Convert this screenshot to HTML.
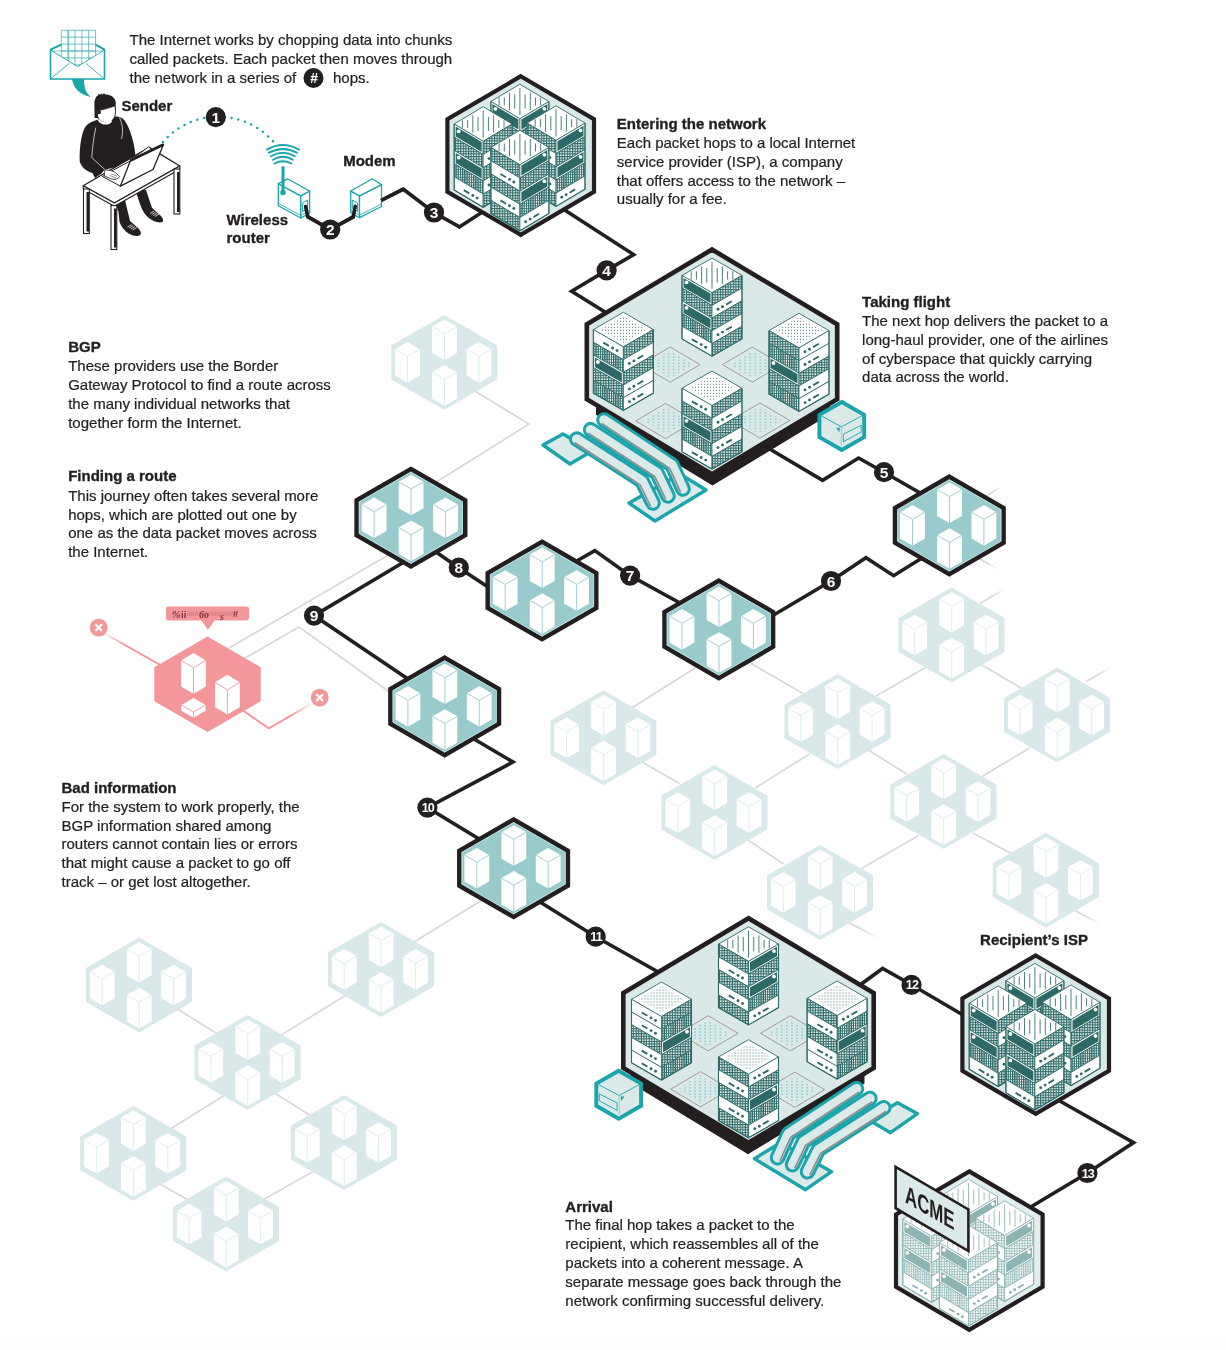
<!DOCTYPE html><html><head><meta charset="utf-8"><style>html,body{margin:0;padding:0;background:#fff;}body{width:1226px;height:1350px;position:relative;overflow:hidden;font-family:"Liberation Sans",sans-serif;}</style></head><body><svg width="1226" height="1350" viewBox="0 0 1226 1350" style="position:absolute;left:0;top:0;will-change:transform"><defs><pattern id="xh" width="2.6" height="2.6" patternUnits="userSpaceOnUse"><rect width="2.6" height="2.6" fill="#fff"/><rect width="2.6" height="1.1" fill="#2d6a67"/><rect width="1.1" height="2.6" fill="#2d6a67"/></pattern><pattern id="vl" width="3.2" height="3.2" patternUnits="userSpaceOnUse"><rect width="3.2" height="3.2" fill="#fff"/><rect width="1.2" height="3.2" fill="#2d6a67"/></pattern><pattern id="dots" width="5.1" height="3.1" patternUnits="userSpaceOnUse"><circle cx="2.5" cy="1.5" r="0.62" fill="#2fb0b4"/></pattern><pattern id="dots2" width="3" height="3" patternUnits="userSpaceOnUse"><circle cx="1.5" cy="1.5" r="0.6" fill="#2d6a67"/></pattern><pattern id="vhf" width="2.2" height="2.6" patternUnits="userSpaceOnUse"><rect width="2.2" height="2.6" fill="#fff"/><rect width="1.1" height="2.6" fill="#9cc0be"/><rect width="2.2" height="0.6" fill="#9cc0be"/></pattern><pattern id="vh" width="2.2" height="2.6" patternUnits="userSpaceOnUse"><rect width="2.2" height="2.6" fill="#fff"/><rect width="1.3" height="2.6" fill="#2d6a67"/><rect width="2.2" height="0.7" fill="#2d6a67"/></pattern><pattern id="xhf" width="2.6" height="2.6" patternUnits="userSpaceOnUse"><rect width="2.6" height="2.6" fill="#fff"/><rect width="2.6" height="0.9" fill="#9cc0be"/><rect width="0.9" height="2.6" fill="#9cc0be"/></pattern><linearGradient id="fadeR" x1="0" x2="1" y1="0" y2="0"><stop offset="0" stop-color="#d8d8d8"/><stop offset="1" stop-color="#d8d8d8" stop-opacity="0"/></linearGradient></defs><rect x="0" y="1335" width="1226" height="15" fill="#fdfdfd"/><polyline points="470.0,388.0 529.0,424.0 430.0,486.0" fill="none" stroke="#d8d8d8" stroke-width="1.7"/><polyline points="229.0,648.0 395.0,551.0" fill="none" stroke="#d8d8d8" stroke-width="1.7"/><polyline points="240.0,661.0 299.0,627.0 395.0,696.0" fill="none" stroke="#d8d8d8" stroke-width="1.7"/><polyline points="696.0,667.5 632.0,707.7" fill="none" stroke="#d8d8d8" stroke-width="1.7"/><polyline points="750.0,662.8 803.0,693.5" fill="none" stroke="#d8d8d8" stroke-width="1.7"/><polyline points="876.0,696.0 925.5,667.5" fill="none" stroke="#d8d8d8" stroke-width="1.7"/><polyline points="982.0,665.0 1022.5,689.0" fill="none" stroke="#d8d8d8" stroke-width="1.7"/><polyline points="642.0,762.0 679.5,783.4" fill="none" stroke="#d8d8d8" stroke-width="1.7"/><polyline points="809.6,754.0 755.0,788.0" fill="none" stroke="#d8d8d8" stroke-width="1.7"/><polyline points="868.8,750.3 906.6,774.0" fill="none" stroke="#d8d8d8" stroke-width="1.7"/><polyline points="1029.6,748.0 982.3,776.3" fill="none" stroke="#d8d8d8" stroke-width="1.7"/><polyline points="748.0,840.0 783.6,864.0" fill="none" stroke="#d8d8d8" stroke-width="1.7"/><polyline points="918.4,835.4 861.7,868.5" fill="none" stroke="#d8d8d8" stroke-width="1.7"/><polyline points="972.8,833.0 1013.0,854.4" fill="none" stroke="#d8d8d8" stroke-width="1.7"/><polyline points="177.0,1008.7 217.2,1033.8" fill="none" stroke="#d8d8d8" stroke-width="1.7"/><polyline points="280.7,1035.4 351.0,992.0" fill="none" stroke="#d8d8d8" stroke-width="1.7"/><polyline points="223.8,1095.7 170.3,1129.0" fill="none" stroke="#d8d8d8" stroke-width="1.7"/><polyline points="270.7,1090.6 310.8,1115.7" fill="none" stroke="#d8d8d8" stroke-width="1.7"/><polyline points="160.3,1184.3 187.0,1199.3" fill="none" stroke="#d8d8d8" stroke-width="1.7"/><polyline points="314.0,1171.0 264.0,1199.3" fill="none" stroke="#d8d8d8" stroke-width="1.7"/><polyline points="414.5,941.8 482.0,900.0" fill="none" stroke="#d8d8d8" stroke-width="1.7"/><defs><linearGradient id="stub0" gradientUnits="userSpaceOnUse" x1="980" y1="603.6" x2="1006" y2="588"><stop offset="0" stop-color="#d8d8d8"/><stop offset="0.45" stop-color="#d8d8d8"/><stop offset="1" stop-color="#d8d8d8" stop-opacity="0"/></linearGradient><linearGradient id="stub1" gradientUnits="userSpaceOnUse" x1="1086" y1="681.7" x2="1112" y2="666.5"><stop offset="0" stop-color="#d8d8d8"/><stop offset="0.45" stop-color="#d8d8d8"/><stop offset="1" stop-color="#d8d8d8" stop-opacity="0"/></linearGradient><linearGradient id="stub2" gradientUnits="userSpaceOnUse" x1="985" y1="497" x2="1002" y2="486"><stop offset="0" stop-color="#d8d8d8"/><stop offset="0.45" stop-color="#d8d8d8"/><stop offset="1" stop-color="#d8d8d8" stop-opacity="0"/></linearGradient><linearGradient id="stub3" gradientUnits="userSpaceOnUse" x1="978" y1="558" x2="999" y2="569.5"><stop offset="0" stop-color="#d8d8d8"/><stop offset="0.45" stop-color="#d8d8d8"/><stop offset="1" stop-color="#d8d8d8" stop-opacity="0"/></linearGradient><linearGradient id="stub4" gradientUnits="userSpaceOnUse" x1="1074" y1="910" x2="1100" y2="924"><stop offset="0" stop-color="#d8d8d8"/><stop offset="0.45" stop-color="#d8d8d8"/><stop offset="1" stop-color="#d8d8d8" stop-opacity="0"/></linearGradient><linearGradient id="stub5" gradientUnits="userSpaceOnUse" x1="849.7" y1="923" x2="878" y2="938"><stop offset="0" stop-color="#d8d8d8"/><stop offset="0.45" stop-color="#d8d8d8"/><stop offset="1" stop-color="#d8d8d8" stop-opacity="0"/></linearGradient></defs><line x1="980" y1="603.6" x2="1006" y2="588" stroke="url(#stub0)" stroke-width="1.8"/><line x1="1086" y1="681.7" x2="1112" y2="666.5" stroke="url(#stub1)" stroke-width="1.8"/><line x1="985" y1="497" x2="1002" y2="486" stroke="url(#stub2)" stroke-width="1.8"/><line x1="978" y1="558" x2="999" y2="569.5" stroke="url(#stub3)" stroke-width="1.8"/><line x1="1074" y1="910" x2="1100" y2="924" stroke="url(#stub4)" stroke-width="1.8"/><line x1="849.7" y1="923" x2="878" y2="938" stroke="url(#stub5)" stroke-width="1.8"/><polygon points="444.3,314.9 497.3,345.5 497.3,379.3 444.3,409.9 391.3,379.3 391.3,345.5" fill="#d9e8e8"/><polygon points="444.5,319.4 456.9,326.5 456.9,352.9 444.5,360.0 432.1,352.9 432.1,326.5" fill="#fff"/><polyline points="432.1,326.5 444.5,333.6 456.9,326.5" fill="none" stroke="#dcebeb" stroke-width="0.9"/><line x1="444.5" y1="333.6" x2="444.5" y2="360.0" stroke="#dcebeb" stroke-width="0.9"/><polygon points="407.5,342.1 419.9,349.2 419.9,375.6 407.5,382.7 395.1,375.6 395.1,349.2" fill="#fff"/><polyline points="395.1,349.2 407.5,356.3 419.9,349.2" fill="none" stroke="#dcebeb" stroke-width="0.9"/><line x1="407.5" y1="356.3" x2="407.5" y2="382.7" stroke="#dcebeb" stroke-width="0.9"/><polygon points="478.9,342.1 491.3,349.2 491.3,375.6 478.9,382.7 466.5,375.6 466.5,349.2" fill="#fff"/><polyline points="466.5,349.2 478.9,356.3 491.3,349.2" fill="none" stroke="#dcebeb" stroke-width="0.9"/><line x1="478.9" y1="356.3" x2="478.9" y2="382.7" stroke="#dcebeb" stroke-width="0.9"/><polygon points="444.5,365.2 456.9,372.3 456.9,398.7 444.5,405.8 432.1,398.7 432.1,372.3" fill="#fff"/><polyline points="432.1,372.3 444.5,379.4 456.9,372.3" fill="none" stroke="#dcebeb" stroke-width="0.9"/><line x1="444.5" y1="379.4" x2="444.5" y2="405.8" stroke="#dcebeb" stroke-width="0.9"/><polygon points="951.5,587.5 1004.5,618.1 1004.5,651.9 951.5,682.5 898.5,651.9 898.5,618.1" fill="#d9e8e8"/><polygon points="951.7,592.0 964.1,599.1 964.1,625.5 951.7,632.6 939.3,625.5 939.3,599.1" fill="#fff"/><polyline points="939.3,599.1 951.7,606.2 964.1,599.1" fill="none" stroke="#dcebeb" stroke-width="0.9"/><line x1="951.7" y1="606.2" x2="951.7" y2="632.6" stroke="#dcebeb" stroke-width="0.9"/><polygon points="914.7,614.7 927.1,621.8 927.1,648.2 914.7,655.3 902.3,648.2 902.3,621.8" fill="#fff"/><polyline points="902.3,621.8 914.7,628.9 927.1,621.8" fill="none" stroke="#dcebeb" stroke-width="0.9"/><line x1="914.7" y1="628.9" x2="914.7" y2="655.3" stroke="#dcebeb" stroke-width="0.9"/><polygon points="986.1,614.7 998.5,621.8 998.5,648.2 986.1,655.3 973.7,648.2 973.7,621.8" fill="#fff"/><polyline points="973.7,621.8 986.1,628.9 998.5,621.8" fill="none" stroke="#dcebeb" stroke-width="0.9"/><line x1="986.1" y1="628.9" x2="986.1" y2="655.3" stroke="#dcebeb" stroke-width="0.9"/><polygon points="951.7,637.8 964.1,644.9 964.1,671.3 951.7,678.4 939.3,671.3 939.3,644.9" fill="#fff"/><polyline points="939.3,644.9 951.7,652.0 964.1,644.9" fill="none" stroke="#dcebeb" stroke-width="0.9"/><line x1="951.7" y1="652.0" x2="951.7" y2="678.4" stroke="#dcebeb" stroke-width="0.9"/><polygon points="603.4,690.3 656.4,720.9 656.4,754.7 603.4,785.3 550.4,754.7 550.4,720.9" fill="#d9e8e8"/><polygon points="603.6,694.8 616.0,701.9 616.0,728.3 603.6,735.4 591.2,728.3 591.2,701.9" fill="#fff"/><polyline points="591.2,701.9 603.6,709.0 616.0,701.9" fill="none" stroke="#dcebeb" stroke-width="0.9"/><line x1="603.6" y1="709.0" x2="603.6" y2="735.4" stroke="#dcebeb" stroke-width="0.9"/><polygon points="566.6,717.5 579.0,724.6 579.0,751.0 566.6,758.1 554.2,751.0 554.2,724.6" fill="#fff"/><polyline points="554.2,724.6 566.6,731.7 579.0,724.6" fill="none" stroke="#dcebeb" stroke-width="0.9"/><line x1="566.6" y1="731.7" x2="566.6" y2="758.1" stroke="#dcebeb" stroke-width="0.9"/><polygon points="638.0,717.5 650.4,724.6 650.4,751.0 638.0,758.1 625.6,751.0 625.6,724.6" fill="#fff"/><polyline points="625.6,724.6 638.0,731.7 650.4,724.6" fill="none" stroke="#dcebeb" stroke-width="0.9"/><line x1="638.0" y1="731.7" x2="638.0" y2="758.1" stroke="#dcebeb" stroke-width="0.9"/><polygon points="603.6,740.6 616.0,747.7 616.0,774.1 603.6,781.2 591.2,774.1 591.2,747.7" fill="#fff"/><polyline points="591.2,747.7 603.6,754.8 616.0,747.7" fill="none" stroke="#dcebeb" stroke-width="0.9"/><line x1="603.6" y1="754.8" x2="603.6" y2="781.2" stroke="#dcebeb" stroke-width="0.9"/><polygon points="837.5,674.0 890.5,704.6 890.5,738.4 837.5,769.0 784.5,738.4 784.5,704.6" fill="#d9e8e8"/><polygon points="837.7,678.5 850.1,685.6 850.1,712.0 837.7,719.1 825.3,712.0 825.3,685.6" fill="#fff"/><polyline points="825.3,685.6 837.7,692.7 850.1,685.6" fill="none" stroke="#dcebeb" stroke-width="0.9"/><line x1="837.7" y1="692.7" x2="837.7" y2="719.1" stroke="#dcebeb" stroke-width="0.9"/><polygon points="800.7,701.2 813.1,708.3 813.1,734.7 800.7,741.8 788.3,734.7 788.3,708.3" fill="#fff"/><polyline points="788.3,708.3 800.7,715.4 813.1,708.3" fill="none" stroke="#dcebeb" stroke-width="0.9"/><line x1="800.7" y1="715.4" x2="800.7" y2="741.8" stroke="#dcebeb" stroke-width="0.9"/><polygon points="872.1,701.2 884.5,708.3 884.5,734.7 872.1,741.8 859.7,734.7 859.7,708.3" fill="#fff"/><polyline points="859.7,708.3 872.1,715.4 884.5,708.3" fill="none" stroke="#dcebeb" stroke-width="0.9"/><line x1="872.1" y1="715.4" x2="872.1" y2="741.8" stroke="#dcebeb" stroke-width="0.9"/><polygon points="837.7,724.3 850.1,731.4 850.1,757.8 837.7,764.9 825.3,757.8 825.3,731.4" fill="#fff"/><polyline points="825.3,731.4 837.7,738.5 850.1,731.4" fill="none" stroke="#dcebeb" stroke-width="0.9"/><line x1="837.7" y1="738.5" x2="837.7" y2="764.9" stroke="#dcebeb" stroke-width="0.9"/><polygon points="1057.0,667.5 1110.0,698.1 1110.0,731.9 1057.0,762.5 1004.0,731.9 1004.0,698.1" fill="#d9e8e8"/><polygon points="1057.2,672.0 1069.6,679.1 1069.6,705.5 1057.2,712.6 1044.8,705.5 1044.8,679.1" fill="#fff"/><polyline points="1044.8,679.1 1057.2,686.2 1069.6,679.1" fill="none" stroke="#dcebeb" stroke-width="0.9"/><line x1="1057.2" y1="686.2" x2="1057.2" y2="712.6" stroke="#dcebeb" stroke-width="0.9"/><polygon points="1020.2,694.7 1032.6,701.8 1032.6,728.2 1020.2,735.3 1007.8,728.2 1007.8,701.8" fill="#fff"/><polyline points="1007.8,701.8 1020.2,708.9 1032.6,701.8" fill="none" stroke="#dcebeb" stroke-width="0.9"/><line x1="1020.2" y1="708.9" x2="1020.2" y2="735.3" stroke="#dcebeb" stroke-width="0.9"/><polygon points="1091.6,694.7 1104.0,701.8 1104.0,728.2 1091.6,735.3 1079.2,728.2 1079.2,701.8" fill="#fff"/><polyline points="1079.2,701.8 1091.6,708.9 1104.0,701.8" fill="none" stroke="#dcebeb" stroke-width="0.9"/><line x1="1091.6" y1="708.9" x2="1091.6" y2="735.3" stroke="#dcebeb" stroke-width="0.9"/><polygon points="1057.2,717.8 1069.6,724.9 1069.6,751.3 1057.2,758.4 1044.8,751.3 1044.8,724.9" fill="#fff"/><polyline points="1044.8,724.9 1057.2,732.0 1069.6,724.9" fill="none" stroke="#dcebeb" stroke-width="0.9"/><line x1="1057.2" y1="732.0" x2="1057.2" y2="758.4" stroke="#dcebeb" stroke-width="0.9"/><polygon points="714.5,765.0 767.5,795.6 767.5,829.4 714.5,860.0 661.5,829.4 661.5,795.6" fill="#d9e8e8"/><polygon points="714.7,769.5 727.1,776.6 727.1,803.0 714.7,810.1 702.3,803.0 702.3,776.6" fill="#fff"/><polyline points="702.3,776.6 714.7,783.7 727.1,776.6" fill="none" stroke="#dcebeb" stroke-width="0.9"/><line x1="714.7" y1="783.7" x2="714.7" y2="810.1" stroke="#dcebeb" stroke-width="0.9"/><polygon points="677.7,792.2 690.1,799.3 690.1,825.7 677.7,832.8 665.3,825.7 665.3,799.3" fill="#fff"/><polyline points="665.3,799.3 677.7,806.4 690.1,799.3" fill="none" stroke="#dcebeb" stroke-width="0.9"/><line x1="677.7" y1="806.4" x2="677.7" y2="832.8" stroke="#dcebeb" stroke-width="0.9"/><polygon points="749.1,792.2 761.5,799.3 761.5,825.7 749.1,832.8 736.7,825.7 736.7,799.3" fill="#fff"/><polyline points="736.7,799.3 749.1,806.4 761.5,799.3" fill="none" stroke="#dcebeb" stroke-width="0.9"/><line x1="749.1" y1="806.4" x2="749.1" y2="832.8" stroke="#dcebeb" stroke-width="0.9"/><polygon points="714.7,815.3 727.1,822.4 727.1,848.8 714.7,855.9 702.3,848.8 702.3,822.4" fill="#fff"/><polyline points="702.3,822.4 714.7,829.5 727.1,822.4" fill="none" stroke="#dcebeb" stroke-width="0.9"/><line x1="714.7" y1="829.5" x2="714.7" y2="855.9" stroke="#dcebeb" stroke-width="0.9"/><polygon points="943.5,754.0 996.5,784.6 996.5,818.4 943.5,849.0 890.5,818.4 890.5,784.6" fill="#d9e8e8"/><polygon points="943.7,758.5 956.1,765.6 956.1,792.0 943.7,799.1 931.3,792.0 931.3,765.6" fill="#fff"/><polyline points="931.3,765.6 943.7,772.7 956.1,765.6" fill="none" stroke="#dcebeb" stroke-width="0.9"/><line x1="943.7" y1="772.7" x2="943.7" y2="799.1" stroke="#dcebeb" stroke-width="0.9"/><polygon points="906.7,781.2 919.1,788.3 919.1,814.7 906.7,821.8 894.3,814.7 894.3,788.3" fill="#fff"/><polyline points="894.3,788.3 906.7,795.4 919.1,788.3" fill="none" stroke="#dcebeb" stroke-width="0.9"/><line x1="906.7" y1="795.4" x2="906.7" y2="821.8" stroke="#dcebeb" stroke-width="0.9"/><polygon points="978.1,781.2 990.5,788.3 990.5,814.7 978.1,821.8 965.7,814.7 965.7,788.3" fill="#fff"/><polyline points="965.7,788.3 978.1,795.4 990.5,788.3" fill="none" stroke="#dcebeb" stroke-width="0.9"/><line x1="978.1" y1="795.4" x2="978.1" y2="821.8" stroke="#dcebeb" stroke-width="0.9"/><polygon points="943.7,804.3 956.1,811.4 956.1,837.8 943.7,844.9 931.3,837.8 931.3,811.4" fill="#fff"/><polyline points="931.3,811.4 943.7,818.5 956.1,811.4" fill="none" stroke="#dcebeb" stroke-width="0.9"/><line x1="943.7" y1="818.5" x2="943.7" y2="844.9" stroke="#dcebeb" stroke-width="0.9"/><polygon points="820.0,844.9 873.0,875.5 873.0,909.3 820.0,939.9 767.0,909.3 767.0,875.5" fill="#d9e8e8"/><polygon points="820.2,849.4 832.6,856.5 832.6,882.9 820.2,890.0 807.8,882.9 807.8,856.5" fill="#fff"/><polyline points="807.8,856.5 820.2,863.6 832.6,856.5" fill="none" stroke="#dcebeb" stroke-width="0.9"/><line x1="820.2" y1="863.6" x2="820.2" y2="890.0" stroke="#dcebeb" stroke-width="0.9"/><polygon points="783.2,872.1 795.6,879.2 795.6,905.6 783.2,912.7 770.8,905.6 770.8,879.2" fill="#fff"/><polyline points="770.8,879.2 783.2,886.3 795.6,879.2" fill="none" stroke="#dcebeb" stroke-width="0.9"/><line x1="783.2" y1="886.3" x2="783.2" y2="912.7" stroke="#dcebeb" stroke-width="0.9"/><polygon points="854.6,872.1 867.0,879.2 867.0,905.6 854.6,912.7 842.2,905.6 842.2,879.2" fill="#fff"/><polyline points="842.2,879.2 854.6,886.3 867.0,879.2" fill="none" stroke="#dcebeb" stroke-width="0.9"/><line x1="854.6" y1="886.3" x2="854.6" y2="912.7" stroke="#dcebeb" stroke-width="0.9"/><polygon points="820.2,895.2 832.6,902.3 832.6,928.7 820.2,935.8 807.8,928.7 807.8,902.3" fill="#fff"/><polyline points="807.8,902.3 820.2,909.4 832.6,902.3" fill="none" stroke="#dcebeb" stroke-width="0.9"/><line x1="820.2" y1="909.4" x2="820.2" y2="935.8" stroke="#dcebeb" stroke-width="0.9"/><polygon points="1045.8,832.7 1098.8,863.3 1098.8,897.1 1045.8,927.7 992.8,897.1 992.8,863.3" fill="#d9e8e8"/><polygon points="1046.0,837.2 1058.4,844.3 1058.4,870.7 1046.0,877.8 1033.6,870.7 1033.6,844.3" fill="#fff"/><polyline points="1033.6,844.3 1046.0,851.4 1058.4,844.3" fill="none" stroke="#dcebeb" stroke-width="0.9"/><line x1="1046.0" y1="851.4" x2="1046.0" y2="877.8" stroke="#dcebeb" stroke-width="0.9"/><polygon points="1009.0,859.9 1021.4,867.0 1021.4,893.4 1009.0,900.5 996.6,893.4 996.6,867.0" fill="#fff"/><polyline points="996.6,867.0 1009.0,874.1 1021.4,867.0" fill="none" stroke="#dcebeb" stroke-width="0.9"/><line x1="1009.0" y1="874.1" x2="1009.0" y2="900.5" stroke="#dcebeb" stroke-width="0.9"/><polygon points="1080.4,859.9 1092.8,867.0 1092.8,893.4 1080.4,900.5 1068.0,893.4 1068.0,867.0" fill="#fff"/><polyline points="1068.0,867.0 1080.4,874.1 1092.8,867.0" fill="none" stroke="#dcebeb" stroke-width="0.9"/><line x1="1080.4" y1="874.1" x2="1080.4" y2="900.5" stroke="#dcebeb" stroke-width="0.9"/><polygon points="1046.0,883.0 1058.4,890.1 1058.4,916.5 1046.0,923.6 1033.6,916.5 1033.6,890.1" fill="#fff"/><polyline points="1033.6,890.1 1046.0,897.2 1058.4,890.1" fill="none" stroke="#dcebeb" stroke-width="0.9"/><line x1="1046.0" y1="897.2" x2="1046.0" y2="923.6" stroke="#dcebeb" stroke-width="0.9"/><polygon points="139.0,937.5 192.0,968.1 192.0,1001.9 139.0,1032.5 86.0,1001.9 86.0,968.1" fill="#d9e8e8"/><polygon points="139.2,942.0 151.6,949.1 151.6,975.5 139.2,982.6 126.8,975.5 126.8,949.1" fill="#fff"/><polyline points="126.8,949.1 139.2,956.2 151.6,949.1" fill="none" stroke="#dcebeb" stroke-width="0.9"/><line x1="139.2" y1="956.2" x2="139.2" y2="982.6" stroke="#dcebeb" stroke-width="0.9"/><polygon points="102.2,964.7 114.6,971.8 114.6,998.2 102.2,1005.3 89.8,998.2 89.8,971.8" fill="#fff"/><polyline points="89.8,971.8 102.2,978.9 114.6,971.8" fill="none" stroke="#dcebeb" stroke-width="0.9"/><line x1="102.2" y1="978.9" x2="102.2" y2="1005.3" stroke="#dcebeb" stroke-width="0.9"/><polygon points="173.6,964.7 186.0,971.8 186.0,998.2 173.6,1005.3 161.2,998.2 161.2,971.8" fill="#fff"/><polyline points="161.2,971.8 173.6,978.9 186.0,971.8" fill="none" stroke="#dcebeb" stroke-width="0.9"/><line x1="173.6" y1="978.9" x2="173.6" y2="1005.3" stroke="#dcebeb" stroke-width="0.9"/><polygon points="139.2,987.8 151.6,994.9 151.6,1021.3 139.2,1028.4 126.8,1021.3 126.8,994.9" fill="#fff"/><polyline points="126.8,994.9 139.2,1002.0 151.6,994.9" fill="none" stroke="#dcebeb" stroke-width="0.9"/><line x1="139.2" y1="1002.0" x2="139.2" y2="1028.4" stroke="#dcebeb" stroke-width="0.9"/><polygon points="381.0,921.9 434.0,952.5 434.0,986.3 381.0,1016.9 328.0,986.3 328.0,952.5" fill="#d9e8e8"/><polygon points="381.2,926.4 393.6,933.5 393.6,959.9 381.2,967.0 368.8,959.9 368.8,933.5" fill="#fff"/><polyline points="368.8,933.5 381.2,940.6 393.6,933.5" fill="none" stroke="#dcebeb" stroke-width="0.9"/><line x1="381.2" y1="940.6" x2="381.2" y2="967.0" stroke="#dcebeb" stroke-width="0.9"/><polygon points="344.2,949.1 356.6,956.2 356.6,982.6 344.2,989.7 331.8,982.6 331.8,956.2" fill="#fff"/><polyline points="331.8,956.2 344.2,963.3 356.6,956.2" fill="none" stroke="#dcebeb" stroke-width="0.9"/><line x1="344.2" y1="963.3" x2="344.2" y2="989.7" stroke="#dcebeb" stroke-width="0.9"/><polygon points="415.6,949.1 428.0,956.2 428.0,982.6 415.6,989.7 403.2,982.6 403.2,956.2" fill="#fff"/><polyline points="403.2,956.2 415.6,963.3 428.0,956.2" fill="none" stroke="#dcebeb" stroke-width="0.9"/><line x1="415.6" y1="963.3" x2="415.6" y2="989.7" stroke="#dcebeb" stroke-width="0.9"/><polygon points="381.2,972.2 393.6,979.3 393.6,1005.7 381.2,1012.8 368.8,1005.7 368.8,979.3" fill="#fff"/><polyline points="368.8,979.3 381.2,986.4 393.6,979.3" fill="none" stroke="#dcebeb" stroke-width="0.9"/><line x1="381.2" y1="986.4" x2="381.2" y2="1012.8" stroke="#dcebeb" stroke-width="0.9"/><polygon points="247.6,1014.9 300.6,1045.5 300.6,1079.3 247.6,1109.9 194.6,1079.3 194.6,1045.5" fill="#d9e8e8"/><polygon points="247.8,1019.4 260.2,1026.5 260.2,1052.9 247.8,1060.0 235.4,1052.9 235.4,1026.5" fill="#fff"/><polyline points="235.4,1026.5 247.8,1033.6 260.2,1026.5" fill="none" stroke="#dcebeb" stroke-width="0.9"/><line x1="247.8" y1="1033.6" x2="247.8" y2="1060.0" stroke="#dcebeb" stroke-width="0.9"/><polygon points="210.8,1042.1 223.2,1049.2 223.2,1075.6 210.8,1082.7 198.4,1075.6 198.4,1049.2" fill="#fff"/><polyline points="198.4,1049.2 210.8,1056.3 223.2,1049.2" fill="none" stroke="#dcebeb" stroke-width="0.9"/><line x1="210.8" y1="1056.3" x2="210.8" y2="1082.7" stroke="#dcebeb" stroke-width="0.9"/><polygon points="282.2,1042.1 294.6,1049.2 294.6,1075.6 282.2,1082.7 269.8,1075.6 269.8,1049.2" fill="#fff"/><polyline points="269.8,1049.2 282.2,1056.3 294.6,1049.2" fill="none" stroke="#dcebeb" stroke-width="0.9"/><line x1="282.2" y1="1056.3" x2="282.2" y2="1082.7" stroke="#dcebeb" stroke-width="0.9"/><polygon points="247.8,1065.2 260.2,1072.3 260.2,1098.7 247.8,1105.8 235.4,1098.7 235.4,1072.3" fill="#fff"/><polyline points="235.4,1072.3 247.8,1079.4 260.2,1072.3" fill="none" stroke="#dcebeb" stroke-width="0.9"/><line x1="247.8" y1="1079.4" x2="247.8" y2="1105.8" stroke="#dcebeb" stroke-width="0.9"/><polygon points="133.2,1105.8 186.2,1136.4 186.2,1170.2 133.2,1200.8 80.2,1170.2 80.2,1136.4" fill="#d9e8e8"/><polygon points="133.4,1110.3 145.8,1117.4 145.8,1143.8 133.4,1150.9 121.0,1143.8 121.0,1117.4" fill="#fff"/><polyline points="121.0,1117.4 133.4,1124.5 145.8,1117.4" fill="none" stroke="#dcebeb" stroke-width="0.9"/><line x1="133.4" y1="1124.5" x2="133.4" y2="1150.9" stroke="#dcebeb" stroke-width="0.9"/><polygon points="96.4,1133.0 108.8,1140.1 108.8,1166.5 96.4,1173.6 84.0,1166.5 84.0,1140.1" fill="#fff"/><polyline points="84.0,1140.1 96.4,1147.2 108.8,1140.1" fill="none" stroke="#dcebeb" stroke-width="0.9"/><line x1="96.4" y1="1147.2" x2="96.4" y2="1173.6" stroke="#dcebeb" stroke-width="0.9"/><polygon points="167.8,1133.0 180.2,1140.1 180.2,1166.5 167.8,1173.6 155.4,1166.5 155.4,1140.1" fill="#fff"/><polyline points="155.4,1140.1 167.8,1147.2 180.2,1140.1" fill="none" stroke="#dcebeb" stroke-width="0.9"/><line x1="167.8" y1="1147.2" x2="167.8" y2="1173.6" stroke="#dcebeb" stroke-width="0.9"/><polygon points="133.4,1156.1 145.8,1163.2 145.8,1189.6 133.4,1196.7 121.0,1189.6 121.0,1163.2" fill="#fff"/><polyline points="121.0,1163.2 133.4,1170.3 145.8,1163.2" fill="none" stroke="#dcebeb" stroke-width="0.9"/><line x1="133.4" y1="1170.3" x2="133.4" y2="1196.7" stroke="#dcebeb" stroke-width="0.9"/><polygon points="344.0,1095.0 397.0,1125.6 397.0,1159.4 344.0,1190.0 291.0,1159.4 291.0,1125.6" fill="#d9e8e8"/><polygon points="344.2,1099.5 356.6,1106.6 356.6,1133.0 344.2,1140.1 331.8,1133.0 331.8,1106.6" fill="#fff"/><polyline points="331.8,1106.6 344.2,1113.7 356.6,1106.6" fill="none" stroke="#dcebeb" stroke-width="0.9"/><line x1="344.2" y1="1113.7" x2="344.2" y2="1140.1" stroke="#dcebeb" stroke-width="0.9"/><polygon points="307.2,1122.2 319.6,1129.3 319.6,1155.7 307.2,1162.8 294.8,1155.7 294.8,1129.3" fill="#fff"/><polyline points="294.8,1129.3 307.2,1136.4 319.6,1129.3" fill="none" stroke="#dcebeb" stroke-width="0.9"/><line x1="307.2" y1="1136.4" x2="307.2" y2="1162.8" stroke="#dcebeb" stroke-width="0.9"/><polygon points="378.6,1122.2 391.0,1129.3 391.0,1155.7 378.6,1162.8 366.2,1155.7 366.2,1129.3" fill="#fff"/><polyline points="366.2,1129.3 378.6,1136.4 391.0,1129.3" fill="none" stroke="#dcebeb" stroke-width="0.9"/><line x1="378.6" y1="1136.4" x2="378.6" y2="1162.8" stroke="#dcebeb" stroke-width="0.9"/><polygon points="344.2,1145.3 356.6,1152.4 356.6,1178.8 344.2,1185.9 331.8,1178.8 331.8,1152.4" fill="#fff"/><polyline points="331.8,1152.4 344.2,1159.5 356.6,1152.4" fill="none" stroke="#dcebeb" stroke-width="0.9"/><line x1="344.2" y1="1159.5" x2="344.2" y2="1185.9" stroke="#dcebeb" stroke-width="0.9"/><polygon points="226.0,1176.5 279.0,1207.1 279.0,1240.9 226.0,1271.5 173.0,1240.9 173.0,1207.1" fill="#d9e8e8"/><polygon points="226.2,1181.0 238.6,1188.1 238.6,1214.5 226.2,1221.6 213.8,1214.5 213.8,1188.1" fill="#fff"/><polyline points="213.8,1188.1 226.2,1195.2 238.6,1188.1" fill="none" stroke="#dcebeb" stroke-width="0.9"/><line x1="226.2" y1="1195.2" x2="226.2" y2="1221.6" stroke="#dcebeb" stroke-width="0.9"/><polygon points="189.2,1203.7 201.6,1210.8 201.6,1237.2 189.2,1244.3 176.8,1237.2 176.8,1210.8" fill="#fff"/><polyline points="176.8,1210.8 189.2,1217.9 201.6,1210.8" fill="none" stroke="#dcebeb" stroke-width="0.9"/><line x1="189.2" y1="1217.9" x2="189.2" y2="1244.3" stroke="#dcebeb" stroke-width="0.9"/><polygon points="260.6,1203.7 273.0,1210.8 273.0,1237.2 260.6,1244.3 248.2,1237.2 248.2,1210.8" fill="#fff"/><polyline points="248.2,1210.8 260.6,1217.9 273.0,1210.8" fill="none" stroke="#dcebeb" stroke-width="0.9"/><line x1="260.6" y1="1217.9" x2="260.6" y2="1244.3" stroke="#dcebeb" stroke-width="0.9"/><polygon points="226.2,1226.8 238.6,1233.9 238.6,1260.3 226.2,1267.4 213.8,1260.3 213.8,1233.9" fill="#fff"/><polyline points="213.8,1233.9 226.2,1241.0 238.6,1233.9" fill="none" stroke="#dcebeb" stroke-width="0.9"/><line x1="226.2" y1="1241.0" x2="226.2" y2="1267.4" stroke="#dcebeb" stroke-width="0.9"/><polyline points="305.6,206.5 307.8,216.8 330.2,229.5 353.3,216.8 355.2,206.2" fill="none" stroke="#231f20" stroke-width="3.6" stroke-linejoin="miter"/><polyline points="381.0,200.5 403.3,189.2 434.0,212.5 459.4,226.9 484.0,211.0" fill="none" stroke="#231f20" stroke-width="3.6" stroke-linejoin="miter"/><polyline points="560.0,207.0 633.7,254.6 606.6,270.4 571.6,291.2 605.0,312.0" fill="none" stroke="#231f20" stroke-width="3.6" stroke-linejoin="miter"/><polyline points="768.0,448.0 822.6,480.3 858.6,458.0 884.0,472.2 922.0,494.0" fill="none" stroke="#231f20" stroke-width="3.6" stroke-linejoin="miter"/><polyline points="922.0,558.0 893.6,575.7 866.0,557.7 831.0,581.0 772.0,616.0" fill="none" stroke="#231f20" stroke-width="3.6" stroke-linejoin="miter"/><polyline points="680.0,603.0 630.1,575.6 594.8,550.6 575.0,562.0" fill="none" stroke="#231f20" stroke-width="3.6" stroke-linejoin="miter"/><polyline points="488.0,587.0 458.8,567.7 436.0,552.0" fill="none" stroke="#231f20" stroke-width="3.6" stroke-linejoin="miter"/><polyline points="404.0,562.0 314.0,615.6 408.0,679.0" fill="none" stroke="#231f20" stroke-width="3.6" stroke-linejoin="miter"/><polyline points="474.0,739.0 513.0,762.0 427.4,807.6 480.0,839.5" fill="none" stroke="#231f20" stroke-width="3.6" stroke-linejoin="miter"/><polyline points="540.0,902.0 595.7,936.7 660.0,973.0" fill="none" stroke="#231f20" stroke-width="3.6" stroke-linejoin="miter"/><polyline points="860.0,985.0 882.6,968.5 911.5,984.8 963.0,1015.0" fill="none" stroke="#231f20" stroke-width="3.6" stroke-linejoin="miter"/><polyline points="1058.0,1100.0 1133.6,1142.6 1087.4,1173.0 1029.0,1208.0" fill="none" stroke="#231f20" stroke-width="3.6" stroke-linejoin="miter"/><polygon points="410.9,469.0 465.2,500.3 465.2,535.1 410.9,566.4 356.6,535.1 356.6,500.3" fill="#9acbcc" stroke="#231f20" stroke-width="4.5" stroke-linejoin="miter"/><polygon points="410.9,472.1 462.5,501.9 462.5,533.5 410.9,563.3 359.3,533.5 359.3,501.9" fill="none" stroke="#b9dcdc" stroke-width="1"/><polygon points="411.1,474.7 423.5,481.8 423.5,508.2 411.1,515.3 398.7,508.2 398.7,481.8" fill="#fff"/><polyline points="398.7,481.8 411.1,488.9 423.5,481.8" fill="none" stroke="#9acbcc" stroke-width="0.9"/><line x1="411.1" y1="488.9" x2="411.1" y2="515.3" stroke="#9acbcc" stroke-width="0.9"/><polygon points="374.1,497.4 386.5,504.5 386.5,530.9 374.1,538.0 361.7,530.9 361.7,504.5" fill="#fff"/><polyline points="361.7,504.5 374.1,511.6 386.5,504.5" fill="none" stroke="#9acbcc" stroke-width="0.9"/><line x1="374.1" y1="511.6" x2="374.1" y2="538.0" stroke="#9acbcc" stroke-width="0.9"/><polygon points="445.5,497.4 457.9,504.5 457.9,530.9 445.5,538.0 433.1,530.9 433.1,504.5" fill="#fff"/><polyline points="433.1,504.5 445.5,511.6 457.9,504.5" fill="none" stroke="#9acbcc" stroke-width="0.9"/><line x1="445.5" y1="511.6" x2="445.5" y2="538.0" stroke="#9acbcc" stroke-width="0.9"/><polygon points="411.1,520.5 423.5,527.6 423.5,554.0 411.1,561.1 398.7,554.0 398.7,527.6" fill="#fff"/><polyline points="398.7,527.6 411.1,534.7 423.5,527.6" fill="none" stroke="#9acbcc" stroke-width="0.9"/><line x1="411.1" y1="534.7" x2="411.1" y2="561.1" stroke="#9acbcc" stroke-width="0.9"/><polygon points="542.0,541.8 596.3,573.1 596.3,607.9 542.0,639.2 487.7,607.9 487.7,573.1" fill="#9acbcc" stroke="#231f20" stroke-width="4.5" stroke-linejoin="miter"/><polygon points="542.0,544.9 593.6,574.7 593.6,606.3 542.0,636.1 490.4,606.3 490.4,574.7" fill="none" stroke="#b9dcdc" stroke-width="1"/><polygon points="542.2,547.5 554.6,554.6 554.6,581.0 542.2,588.1 529.8,581.0 529.8,554.6" fill="#fff"/><polyline points="529.8,554.6 542.2,561.7 554.6,554.6" fill="none" stroke="#9acbcc" stroke-width="0.9"/><line x1="542.2" y1="561.7" x2="542.2" y2="588.1" stroke="#9acbcc" stroke-width="0.9"/><polygon points="505.2,570.2 517.6,577.3 517.6,603.7 505.2,610.8 492.8,603.7 492.8,577.3" fill="#fff"/><polyline points="492.8,577.3 505.2,584.4 517.6,577.3" fill="none" stroke="#9acbcc" stroke-width="0.9"/><line x1="505.2" y1="584.4" x2="505.2" y2="610.8" stroke="#9acbcc" stroke-width="0.9"/><polygon points="576.6,570.2 589.0,577.3 589.0,603.7 576.6,610.8 564.2,603.7 564.2,577.3" fill="#fff"/><polyline points="564.2,577.3 576.6,584.4 589.0,577.3" fill="none" stroke="#9acbcc" stroke-width="0.9"/><line x1="576.6" y1="584.4" x2="576.6" y2="610.8" stroke="#9acbcc" stroke-width="0.9"/><polygon points="542.2,593.3 554.6,600.4 554.6,626.8 542.2,633.9 529.8,626.8 529.8,600.4" fill="#fff"/><polyline points="529.8,600.4 542.2,607.5 554.6,600.4" fill="none" stroke="#9acbcc" stroke-width="0.9"/><line x1="542.2" y1="607.5" x2="542.2" y2="633.9" stroke="#9acbcc" stroke-width="0.9"/><polygon points="718.8,580.7 773.1,612.0 773.1,646.8 718.8,678.1 664.5,646.8 664.5,612.0" fill="#9acbcc" stroke="#231f20" stroke-width="4.5" stroke-linejoin="miter"/><polygon points="718.8,583.8 770.4,613.6 770.4,645.2 718.8,675.0 667.2,645.2 667.2,613.6" fill="none" stroke="#b9dcdc" stroke-width="1"/><polygon points="719.0,586.4 731.4,593.5 731.4,619.9 719.0,627.0 706.6,619.9 706.6,593.5" fill="#fff"/><polyline points="706.6,593.5 719.0,600.6 731.4,593.5" fill="none" stroke="#9acbcc" stroke-width="0.9"/><line x1="719.0" y1="600.6" x2="719.0" y2="627.0" stroke="#9acbcc" stroke-width="0.9"/><polygon points="682.0,609.1 694.4,616.2 694.4,642.6 682.0,649.7 669.6,642.6 669.6,616.2" fill="#fff"/><polyline points="669.6,616.2 682.0,623.3 694.4,616.2" fill="none" stroke="#9acbcc" stroke-width="0.9"/><line x1="682.0" y1="623.3" x2="682.0" y2="649.7" stroke="#9acbcc" stroke-width="0.9"/><polygon points="753.4,609.1 765.8,616.2 765.8,642.6 753.4,649.7 741.0,642.6 741.0,616.2" fill="#fff"/><polyline points="741.0,616.2 753.4,623.3 765.8,616.2" fill="none" stroke="#9acbcc" stroke-width="0.9"/><line x1="753.4" y1="623.3" x2="753.4" y2="649.7" stroke="#9acbcc" stroke-width="0.9"/><polygon points="719.0,632.2 731.4,639.3 731.4,665.7 719.0,672.8 706.6,665.7 706.6,639.3" fill="#fff"/><polyline points="706.6,639.3 719.0,646.4 731.4,639.3" fill="none" stroke="#9acbcc" stroke-width="0.9"/><line x1="719.0" y1="646.4" x2="719.0" y2="672.8" stroke="#9acbcc" stroke-width="0.9"/><polygon points="949.3,476.7 1003.6,508.0 1003.6,542.8 949.3,574.1 895.0,542.8 895.0,508.0" fill="#9acbcc" stroke="#231f20" stroke-width="4.5" stroke-linejoin="miter"/><polygon points="949.3,479.8 1000.9,509.6 1000.9,541.2 949.3,571.0 897.7,541.2 897.7,509.6" fill="none" stroke="#b9dcdc" stroke-width="1"/><polygon points="949.5,482.4 961.9,489.5 961.9,515.9 949.5,523.0 937.1,515.9 937.1,489.5" fill="#fff"/><polyline points="937.1,489.5 949.5,496.6 961.9,489.5" fill="none" stroke="#9acbcc" stroke-width="0.9"/><line x1="949.5" y1="496.6" x2="949.5" y2="523.0" stroke="#9acbcc" stroke-width="0.9"/><polygon points="912.5,505.1 924.9,512.2 924.9,538.6 912.5,545.7 900.1,538.6 900.1,512.2" fill="#fff"/><polyline points="900.1,512.2 912.5,519.3 924.9,512.2" fill="none" stroke="#9acbcc" stroke-width="0.9"/><line x1="912.5" y1="519.3" x2="912.5" y2="545.7" stroke="#9acbcc" stroke-width="0.9"/><polygon points="983.9,505.1 996.3,512.2 996.3,538.6 983.9,545.7 971.5,538.6 971.5,512.2" fill="#fff"/><polyline points="971.5,512.2 983.9,519.3 996.3,512.2" fill="none" stroke="#9acbcc" stroke-width="0.9"/><line x1="983.9" y1="519.3" x2="983.9" y2="545.7" stroke="#9acbcc" stroke-width="0.9"/><polygon points="949.5,528.2 961.9,535.3 961.9,561.7 949.5,568.8 937.1,561.7 937.1,535.3" fill="#fff"/><polyline points="937.1,535.3 949.5,542.4 961.9,535.3" fill="none" stroke="#9acbcc" stroke-width="0.9"/><line x1="949.5" y1="542.4" x2="949.5" y2="568.8" stroke="#9acbcc" stroke-width="0.9"/><polygon points="444.7,657.7 499.0,689.0 499.0,723.8 444.7,755.1 390.4,723.8 390.4,689.0" fill="#9acbcc" stroke="#231f20" stroke-width="4.5" stroke-linejoin="miter"/><polygon points="444.7,660.8 496.3,690.6 496.3,722.2 444.7,752.0 393.1,722.2 393.1,690.6" fill="none" stroke="#b9dcdc" stroke-width="1"/><polygon points="444.9,663.4 457.3,670.5 457.3,696.9 444.9,704.0 432.5,696.9 432.5,670.5" fill="#fff"/><polyline points="432.5,670.5 444.9,677.6 457.3,670.5" fill="none" stroke="#9acbcc" stroke-width="0.9"/><line x1="444.9" y1="677.6" x2="444.9" y2="704.0" stroke="#9acbcc" stroke-width="0.9"/><polygon points="407.9,686.1 420.3,693.2 420.3,719.6 407.9,726.7 395.5,719.6 395.5,693.2" fill="#fff"/><polyline points="395.5,693.2 407.9,700.3 420.3,693.2" fill="none" stroke="#9acbcc" stroke-width="0.9"/><line x1="407.9" y1="700.3" x2="407.9" y2="726.7" stroke="#9acbcc" stroke-width="0.9"/><polygon points="479.3,686.1 491.7,693.2 491.7,719.6 479.3,726.7 466.9,719.6 466.9,693.2" fill="#fff"/><polyline points="466.9,693.2 479.3,700.3 491.7,693.2" fill="none" stroke="#9acbcc" stroke-width="0.9"/><line x1="479.3" y1="700.3" x2="479.3" y2="726.7" stroke="#9acbcc" stroke-width="0.9"/><polygon points="444.9,709.2 457.3,716.3 457.3,742.7 444.9,749.8 432.5,742.7 432.5,716.3" fill="#fff"/><polyline points="432.5,716.3 444.9,723.4 457.3,716.3" fill="none" stroke="#9acbcc" stroke-width="0.9"/><line x1="444.9" y1="723.4" x2="444.9" y2="749.8" stroke="#9acbcc" stroke-width="0.9"/><polygon points="513.6,819.5 567.9,850.8 567.9,885.6 513.6,916.9 459.3,885.6 459.3,850.8" fill="#9acbcc" stroke="#231f20" stroke-width="4.5" stroke-linejoin="miter"/><polygon points="513.6,822.6 565.2,852.4 565.2,884.0 513.6,913.8 462.0,884.0 462.0,852.4" fill="none" stroke="#b9dcdc" stroke-width="1"/><polygon points="513.8,825.2 526.2,832.3 526.2,858.7 513.8,865.8 501.4,858.7 501.4,832.3" fill="#fff"/><polyline points="501.4,832.3 513.8,839.4 526.2,832.3" fill="none" stroke="#9acbcc" stroke-width="0.9"/><line x1="513.8" y1="839.4" x2="513.8" y2="865.8" stroke="#9acbcc" stroke-width="0.9"/><polygon points="476.8,847.9 489.2,855.0 489.2,881.4 476.8,888.5 464.4,881.4 464.4,855.0" fill="#fff"/><polyline points="464.4,855.0 476.8,862.1 489.2,855.0" fill="none" stroke="#9acbcc" stroke-width="0.9"/><line x1="476.8" y1="862.1" x2="476.8" y2="888.5" stroke="#9acbcc" stroke-width="0.9"/><polygon points="548.2,847.9 560.6,855.0 560.6,881.4 548.2,888.5 535.8,881.4 535.8,855.0" fill="#fff"/><polyline points="535.8,855.0 548.2,862.1 560.6,855.0" fill="none" stroke="#9acbcc" stroke-width="0.9"/><line x1="548.2" y1="862.1" x2="548.2" y2="888.5" stroke="#9acbcc" stroke-width="0.9"/><polygon points="513.8,871.0 526.2,878.1 526.2,904.5 513.8,911.6 501.4,904.5 501.4,878.1" fill="#fff"/><polyline points="501.4,878.1 513.8,885.2 526.2,878.1" fill="none" stroke="#9acbcc" stroke-width="0.9"/><line x1="513.8" y1="885.2" x2="513.8" y2="911.6" stroke="#9acbcc" stroke-width="0.9"/><g transform="translate(712,361.8) scale(1,1)"><polygon points="-116.0,30.0 -116.0,53.0 0.5,123.8 118.0,52.5 118.0,30.0" fill="#231f20"/><polygon points="0.0,-112.3 125.2,-37.4 125.2,37.4 0.0,112.3 -125.2,37.4 -125.2,-37.4" fill="#dae8e7" stroke="#231f20" stroke-width="4.6"/><polygon points="-41.8,-14.8 -12.0,2.8 -41.8,20.4 -71.6,2.8" fill="none" stroke="#8a8a8a" stroke-width="0.8"/><polygon points="-41.8,-11.3 -19.0,2.8 -41.8,16.9 -64.6,2.8" fill="url(#dots)"/><polygon points="40.3,-14.8 70.1,2.8 40.3,20.4 10.5,2.8" fill="none" stroke="#8a8a8a" stroke-width="0.8"/><polygon points="40.3,-11.3 63.1,2.8 40.3,16.9 17.5,2.8" fill="url(#dots)"/><polygon points="-46.4,41.6 -16.6,59.2 -46.4,76.8 -76.2,59.2" fill="none" stroke="#8a8a8a" stroke-width="0.8"/><polygon points="-46.4,45.1 -23.6,59.2 -46.4,73.3 -69.2,59.2" fill="url(#dots)"/><polygon points="48.0,41.1 77.8,58.7 48.0,76.3 18.2,58.7" fill="none" stroke="#8a8a8a" stroke-width="0.8"/><polygon points="48.0,44.6 70.8,58.7 48.0,72.8 25.2,58.7" fill="url(#dots)"/><polygon points="0.0,-103.7 30.0,-86.4 0.0,-69.1 -30.0,-86.4" fill="#fff" stroke="#2d6a67" stroke-width="0.9"/><line x1="-20.8" y1="-90.5" x2="-20.8" y2="-82.3" stroke="#2d6a67" stroke-width="0.85"/><line x1="-15.6" y1="-90.6" x2="-15.6" y2="-82.2" stroke="#2d6a67" stroke-width="0.85"/><line x1="-10.4" y1="-95.2" x2="-10.4" y2="-77.6" stroke="#2d6a67" stroke-width="0.85"/><line x1="-5.2" y1="-93.6" x2="-5.2" y2="-79.2" stroke="#2d6a67" stroke-width="0.85"/><line x1="0.0" y1="-99.9" x2="0.0" y2="-72.9" stroke="#2d6a67" stroke-width="0.85"/><line x1="5.2" y1="-93.6" x2="5.2" y2="-79.2" stroke="#2d6a67" stroke-width="0.85"/><line x1="10.4" y1="-95.2" x2="10.4" y2="-77.6" stroke="#2d6a67" stroke-width="0.85"/><line x1="15.6" y1="-90.6" x2="15.6" y2="-82.2" stroke="#2d6a67" stroke-width="0.85"/><line x1="20.8" y1="-90.5" x2="20.8" y2="-82.3" stroke="#2d6a67" stroke-width="0.85"/><polygon points="-30.0,-86.4 0.0,-69.1 0.0,-56.4 -30.0,-73.7" fill="#fff"/><polygon points="-28.5,-83.8 -1.5,-68.3 -1.5,-58.8 -28.5,-74.3" fill="#2d6a67"/><circle cx="-25.5" cy="-79.4" r="1.9" fill="#fff"/><polygon points="-30.0,-86.4 0.0,-69.1 0.0,-56.4 -30.0,-73.7" fill="none" stroke="#2d6a67" stroke-width="0.8"/><polygon points="-30.0,-73.7 0.0,-56.4 0.0,-43.7 -30.0,-61.0" fill="url(#xh)"/><polygon points="-30.0,-73.7 0.0,-56.4 0.0,-43.7 -30.0,-61.0" fill="none" stroke="#2d6a67" stroke-width="0.8"/><polygon points="-30.0,-61.0 0.0,-43.7 0.0,-31.0 -30.0,-48.3" fill="#fff"/><polygon points="-28.5,-58.4 -1.5,-42.9 -1.5,-33.4 -28.5,-48.9" fill="#2d6a67"/><circle cx="-25.5" cy="-54.0" r="1.9" fill="#fff"/><polygon points="-30.0,-61.0 0.0,-43.7 0.0,-31.0 -30.0,-48.3" fill="none" stroke="#2d6a67" stroke-width="0.8"/><polygon points="-30.0,-48.3 0.0,-31.0 0.0,-18.3 -30.0,-35.6" fill="url(#vh)"/><polygon points="-30.0,-48.3 0.0,-31.0 0.0,-18.3 -30.0,-35.6" fill="none" stroke="#2d6a67" stroke-width="0.8"/><polygon points="-30.0,-35.6 0.0,-18.3 0.0,-5.6 -30.0,-22.9" fill="#fff"/><line x1="-20.1" y1="-22.5" x2="-14.4" y2="-19.3" stroke="#2d6a67" stroke-width="1.9"/><circle cx="-10.8" cy="-17.2" r="1.45" fill="#2d6a67"/><circle cx="-6.3" cy="-14.6" r="1.45" fill="#2d6a67"/><polygon points="-30.0,-35.6 0.0,-18.3 0.0,-5.6 -30.0,-22.9" fill="none" stroke="#2d6a67" stroke-width="0.8"/><polygon points="0.0,-69.1 30.0,-86.4 30.0,-73.7 0.0,-56.4" fill="url(#xh)"/><polygon points="0.0,-69.1 30.0,-86.4 30.0,-73.7 0.0,-56.4" fill="none" stroke="#2d6a67" stroke-width="0.8"/><polygon points="0.0,-56.4 30.0,-73.7 30.0,-61.0 0.0,-43.7" fill="#fff"/><circle cx="6.0" cy="-52.5" r="1.45" fill="#2d6a67"/><circle cx="10.5" cy="-55.1" r="1.45" fill="#2d6a67"/><line x1="14.1" y1="-57.2" x2="19.8" y2="-60.5" stroke="#2d6a67" stroke-width="1.9"/><polygon points="0.0,-56.4 30.0,-73.7 30.0,-61.0 0.0,-43.7" fill="none" stroke="#2d6a67" stroke-width="0.8"/><polygon points="0.0,-43.7 30.0,-61.0 30.0,-48.3 0.0,-31.0" fill="url(#xh)"/><polygon points="0.0,-43.7 30.0,-61.0 30.0,-48.3 0.0,-31.0" fill="none" stroke="#2d6a67" stroke-width="0.8"/><polygon points="0.0,-31.0 30.0,-48.3 30.0,-35.6 0.0,-18.3" fill="#fff"/><circle cx="6.0" cy="-27.1" r="1.45" fill="#2d6a67"/><circle cx="10.5" cy="-29.7" r="1.45" fill="#2d6a67"/><line x1="14.1" y1="-31.8" x2="19.8" y2="-35.1" stroke="#2d6a67" stroke-width="1.9"/><polygon points="0.0,-31.0 30.0,-48.3 30.0,-35.6 0.0,-18.3" fill="none" stroke="#2d6a67" stroke-width="0.8"/><polygon points="0.0,-18.3 30.0,-35.6 30.0,-22.9 0.0,-5.6" fill="url(#xh)"/><polygon points="0.0,-18.3 30.0,-35.6 30.0,-22.9 0.0,-5.6" fill="none" stroke="#2d6a67" stroke-width="0.8"/><polyline points="-30.0,-86.4 -30.0,-22.9 0.0,-5.6 30.0,-22.9 30.0,-86.4" fill="none" stroke="#2d6a67" stroke-width="1.1"/><polygon points="-88.6,-49.5 -58.6,-32.2 -88.6,-14.9 -118.6,-32.2" fill="#fff" stroke="#2d6a67" stroke-width="0.9"/><polygon points="-88.6,-45.5 -65.6,-32.2 -88.6,-18.9 -111.6,-32.2" fill="url(#dots2)"/><polygon points="-118.6,-32.2 -88.6,-14.9 -88.6,-2.2 -118.6,-19.5" fill="#fff"/><line x1="-108.7" y1="-19.1" x2="-103.0" y2="-15.9" stroke="#2d6a67" stroke-width="1.9"/><circle cx="-99.4" cy="-13.8" r="1.45" fill="#2d6a67"/><circle cx="-94.9" cy="-11.2" r="1.45" fill="#2d6a67"/><polygon points="-118.6,-32.2 -88.6,-14.9 -88.6,-2.2 -118.6,-19.5" fill="none" stroke="#2d6a67" stroke-width="0.8"/><polygon points="-118.6,-19.5 -88.6,-2.2 -88.6,10.5 -118.6,-6.8" fill="url(#vh)"/><polygon points="-118.6,-19.5 -88.6,-2.2 -88.6,10.5 -118.6,-6.8" fill="none" stroke="#2d6a67" stroke-width="0.8"/><polygon points="-118.6,-6.8 -88.6,10.5 -88.6,23.2 -118.6,5.9" fill="#fff"/><polygon points="-117.1,-4.2 -90.1,11.3 -90.1,20.8 -117.1,5.3" fill="#2d6a67"/><circle cx="-114.1" cy="0.2" r="1.9" fill="#fff"/><polygon points="-118.6,-6.8 -88.6,10.5 -88.6,23.2 -118.6,5.9" fill="none" stroke="#2d6a67" stroke-width="0.8"/><polygon points="-118.6,5.9 -88.6,23.2 -88.6,35.9 -118.6,18.6" fill="url(#xh)"/><polygon points="-118.6,5.9 -88.6,23.2 -88.6,35.9 -118.6,18.6" fill="none" stroke="#2d6a67" stroke-width="0.8"/><polygon points="-118.6,18.6 -88.6,35.9 -88.6,48.6 -118.6,31.3" fill="url(#vh)"/><polygon points="-118.6,18.6 -88.6,35.9 -88.6,48.6 -118.6,31.3" fill="none" stroke="#2d6a67" stroke-width="0.8"/><polygon points="-88.6,-14.9 -58.6,-32.2 -58.6,-19.5 -88.6,-2.2" fill="url(#xh)"/><polygon points="-88.6,-14.9 -58.6,-32.2 -58.6,-19.5 -88.6,-2.2" fill="none" stroke="#2d6a67" stroke-width="0.8"/><polygon points="-88.6,-2.2 -58.6,-19.5 -58.6,-6.8 -88.6,10.5" fill="#fff"/><circle cx="-82.6" cy="1.7" r="1.45" fill="#2d6a67"/><circle cx="-78.1" cy="-0.9" r="1.45" fill="#2d6a67"/><line x1="-74.5" y1="-3.0" x2="-68.8" y2="-6.3" stroke="#2d6a67" stroke-width="1.9"/><polygon points="-88.6,-2.2 -58.6,-19.5 -58.6,-6.8 -88.6,10.5" fill="none" stroke="#2d6a67" stroke-width="0.8"/><polygon points="-88.6,10.5 -58.6,-6.8 -58.6,5.9 -88.6,23.2" fill="url(#xh)"/><polygon points="-88.6,10.5 -58.6,-6.8 -58.6,5.9 -88.6,23.2" fill="none" stroke="#2d6a67" stroke-width="0.8"/><polygon points="-88.6,23.2 -58.6,5.9 -58.6,18.6 -88.6,35.9" fill="#fff"/><circle cx="-82.6" cy="27.1" r="1.45" fill="#2d6a67"/><circle cx="-78.1" cy="24.5" r="1.45" fill="#2d6a67"/><line x1="-74.5" y1="22.4" x2="-68.8" y2="19.1" stroke="#2d6a67" stroke-width="1.9"/><polygon points="-88.6,23.2 -58.6,5.9 -58.6,18.6 -88.6,35.9" fill="none" stroke="#2d6a67" stroke-width="0.8"/><polygon points="-88.6,35.9 -58.6,18.6 -58.6,31.3 -88.6,48.6" fill="#fff"/><circle cx="-82.6" cy="39.8" r="1.45" fill="#2d6a67"/><circle cx="-78.1" cy="37.2" r="1.45" fill="#2d6a67"/><line x1="-74.5" y1="35.1" x2="-68.8" y2="31.8" stroke="#2d6a67" stroke-width="1.9"/><polygon points="-88.6,35.9 -58.6,18.6 -58.6,31.3 -88.6,48.6" fill="none" stroke="#2d6a67" stroke-width="0.8"/><polyline points="-118.6,-32.2 -118.6,31.3 -88.6,48.6 -58.6,31.3 -58.6,-32.2" fill="none" stroke="#2d6a67" stroke-width="1.1"/><polygon points="87.0,-48.5 117.0,-31.2 87.0,-13.9 57.0,-31.2" fill="#fff" stroke="#2d6a67" stroke-width="0.9"/><polygon points="87.0,-44.5 110.0,-31.2 87.0,-17.9 64.0,-31.2" fill="url(#dots2)"/><polygon points="57.0,-31.2 87.0,-13.9 87.0,-1.2 57.0,-18.5" fill="url(#xh)"/><polygon points="57.0,-31.2 87.0,-13.9 87.0,-1.2 57.0,-18.5" fill="none" stroke="#2d6a67" stroke-width="0.8"/><polygon points="57.0,-18.5 87.0,-1.2 87.0,11.5 57.0,-5.8" fill="url(#vh)"/><polygon points="57.0,-18.5 87.0,-1.2 87.0,11.5 57.0,-5.8" fill="none" stroke="#2d6a67" stroke-width="0.8"/><polygon points="57.0,-5.8 87.0,11.5 87.0,24.2 57.0,6.9" fill="#fff"/><polygon points="58.5,-3.2 85.5,12.3 85.5,21.8 58.5,6.3" fill="#2d6a67"/><circle cx="61.5" cy="1.2" r="1.9" fill="#fff"/><polygon points="57.0,-5.8 87.0,11.5 87.0,24.2 57.0,6.9" fill="none" stroke="#2d6a67" stroke-width="0.8"/><polygon points="57.0,6.9 87.0,24.2 87.0,36.9 57.0,19.6" fill="url(#xh)"/><polygon points="57.0,6.9 87.0,24.2 87.0,36.9 57.0,19.6" fill="none" stroke="#2d6a67" stroke-width="0.8"/><polygon points="57.0,19.6 87.0,36.9 87.0,49.6 57.0,32.3" fill="url(#vh)"/><polygon points="57.0,19.6 87.0,36.9 87.0,49.6 57.0,32.3" fill="none" stroke="#2d6a67" stroke-width="0.8"/><polygon points="87.0,-13.9 117.0,-31.2 117.0,-18.5 87.0,-1.2" fill="#fff"/><circle cx="93.0" cy="-10.0" r="1.45" fill="#2d6a67"/><circle cx="97.5" cy="-12.6" r="1.45" fill="#2d6a67"/><line x1="101.1" y1="-14.7" x2="106.8" y2="-18.0" stroke="#2d6a67" stroke-width="1.9"/><polygon points="87.0,-13.9 117.0,-31.2 117.0,-18.5 87.0,-1.2" fill="none" stroke="#2d6a67" stroke-width="0.8"/><polygon points="87.0,-1.2 117.0,-18.5 117.0,-5.8 87.0,11.5" fill="#fff"/><circle cx="93.0" cy="2.7" r="1.45" fill="#2d6a67"/><circle cx="97.5" cy="0.1" r="1.45" fill="#2d6a67"/><line x1="101.1" y1="-2.0" x2="106.8" y2="-5.3" stroke="#2d6a67" stroke-width="1.9"/><polygon points="87.0,-1.2 117.0,-18.5 117.0,-5.8 87.0,11.5" fill="none" stroke="#2d6a67" stroke-width="0.8"/><polygon points="87.0,11.5 117.0,-5.8 117.0,6.9 87.0,24.2" fill="url(#xh)"/><polygon points="87.0,11.5 117.0,-5.8 117.0,6.9 87.0,24.2" fill="none" stroke="#2d6a67" stroke-width="0.8"/><polygon points="87.0,24.2 117.0,6.9 117.0,19.6 87.0,36.9" fill="#fff"/><circle cx="93.0" cy="28.1" r="1.45" fill="#2d6a67"/><circle cx="97.5" cy="25.5" r="1.45" fill="#2d6a67"/><line x1="101.1" y1="23.4" x2="106.8" y2="20.1" stroke="#2d6a67" stroke-width="1.9"/><polygon points="87.0,24.2 117.0,6.9 117.0,19.6 87.0,36.9" fill="none" stroke="#2d6a67" stroke-width="0.8"/><polygon points="87.0,36.9 117.0,19.6 117.0,32.3 87.0,49.6" fill="#fff"/><circle cx="93.0" cy="40.8" r="1.45" fill="#2d6a67"/><circle cx="97.5" cy="38.2" r="1.45" fill="#2d6a67"/><line x1="101.1" y1="36.1" x2="106.8" y2="32.8" stroke="#2d6a67" stroke-width="1.9"/><polygon points="87.0,36.9 117.0,19.6 117.0,32.3 87.0,49.6" fill="none" stroke="#2d6a67" stroke-width="0.8"/><polyline points="57.0,-31.2 57.0,32.3 87.0,49.6 117.0,32.3 117.0,-31.2" fill="none" stroke="#2d6a67" stroke-width="1.1"/><polygon points="0.0,9.2 30.0,26.5 0.0,43.8 -30.0,26.5" fill="#fff" stroke="#2d6a67" stroke-width="0.9"/><polygon points="0.0,13.2 23.0,26.5 0.0,39.8 -23.0,26.5" fill="url(#dots2)"/><polygon points="-30.0,26.5 0.0,43.8 0.0,56.5 -30.0,39.2" fill="#fff"/><line x1="-20.1" y1="39.6" x2="-14.4" y2="42.8" stroke="#2d6a67" stroke-width="1.9"/><circle cx="-10.8" cy="44.9" r="1.45" fill="#2d6a67"/><circle cx="-6.3" cy="47.5" r="1.45" fill="#2d6a67"/><polygon points="-30.0,26.5 0.0,43.8 0.0,56.5 -30.0,39.2" fill="none" stroke="#2d6a67" stroke-width="0.8"/><polygon points="-30.0,39.2 0.0,56.5 0.0,69.2 -30.0,51.9" fill="url(#xh)"/><polygon points="-30.0,39.2 0.0,56.5 0.0,69.2 -30.0,51.9" fill="none" stroke="#2d6a67" stroke-width="0.8"/><polygon points="-30.0,51.9 0.0,69.2 0.0,81.9 -30.0,64.6" fill="#fff"/><polygon points="-28.5,54.5 -1.5,70.0 -1.5,79.5 -28.5,64.0" fill="#2d6a67"/><circle cx="-25.5" cy="59.0" r="1.9" fill="#fff"/><polygon points="-30.0,51.9 0.0,69.2 0.0,81.9 -30.0,64.6" fill="none" stroke="#2d6a67" stroke-width="0.8"/><polygon points="-30.0,64.6 0.0,81.9 0.0,94.6 -30.0,77.3" fill="url(#vh)"/><polygon points="-30.0,64.6 0.0,81.9 0.0,94.6 -30.0,77.3" fill="none" stroke="#2d6a67" stroke-width="0.8"/><polygon points="-30.0,77.3 0.0,94.6 0.0,107.3 -30.0,90.0" fill="#fff"/><line x1="-20.1" y1="90.4" x2="-14.4" y2="93.6" stroke="#2d6a67" stroke-width="1.9"/><circle cx="-10.8" cy="95.7" r="1.45" fill="#2d6a67"/><circle cx="-6.3" cy="98.3" r="1.45" fill="#2d6a67"/><polygon points="-30.0,77.3 0.0,94.6 0.0,107.3 -30.0,90.0" fill="none" stroke="#2d6a67" stroke-width="0.8"/><polygon points="0.0,43.8 30.0,26.5 30.0,39.2 0.0,56.5" fill="url(#xh)"/><polygon points="0.0,43.8 30.0,26.5 30.0,39.2 0.0,56.5" fill="none" stroke="#2d6a67" stroke-width="0.8"/><polygon points="0.0,56.5 30.0,39.2 30.0,51.9 0.0,69.2" fill="#fff"/><circle cx="6.0" cy="60.4" r="1.45" fill="#2d6a67"/><circle cx="10.5" cy="57.8" r="1.45" fill="#2d6a67"/><line x1="14.1" y1="55.7" x2="19.8" y2="52.4" stroke="#2d6a67" stroke-width="1.9"/><polygon points="0.0,56.5 30.0,39.2 30.0,51.9 0.0,69.2" fill="none" stroke="#2d6a67" stroke-width="0.8"/><polygon points="0.0,69.2 30.0,51.9 30.0,64.6 0.0,81.9" fill="url(#xh)"/><polygon points="0.0,69.2 30.0,51.9 30.0,64.6 0.0,81.9" fill="none" stroke="#2d6a67" stroke-width="0.8"/><polygon points="0.0,81.9 30.0,64.6 30.0,77.3 0.0,94.6" fill="#fff"/><circle cx="6.0" cy="85.8" r="1.45" fill="#2d6a67"/><circle cx="10.5" cy="83.2" r="1.45" fill="#2d6a67"/><line x1="14.1" y1="81.1" x2="19.8" y2="77.8" stroke="#2d6a67" stroke-width="1.9"/><polygon points="0.0,81.9 30.0,64.6 30.0,77.3 0.0,94.6" fill="none" stroke="#2d6a67" stroke-width="0.8"/><polygon points="0.0,94.6 30.0,77.3 30.0,90.0 0.0,107.3" fill="url(#xh)"/><polygon points="0.0,94.6 30.0,77.3 30.0,90.0 0.0,107.3" fill="none" stroke="#2d6a67" stroke-width="0.8"/><polyline points="-30.0,26.5 -30.0,90.0 0.0,107.3 30.0,90.0 30.0,26.5" fill="none" stroke="#2d6a67" stroke-width="1.1"/><polygon points="-169.0,83.2 -149.0,72.2 -120.0,89.2 -142.0,102.2" fill="#dbe9e9" stroke="#19a5aa" stroke-width="3.4" stroke-linejoin="round"/><polygon points="-83.0,141.2 -32.0,112.2 -6.0,128.2 -57.0,159.2" fill="#dbe9e9" stroke="#19a5aa" stroke-width="3.4" stroke-linejoin="round"/><polyline points="-108.0,58.2 -40.0,103.2 -29.0,127.2" fill="none" stroke="#19a5aa" stroke-width="15.5" stroke-linejoin="round" stroke-linecap="round"/><polyline points="-108.0,58.2 -40.0,103.2 -29.0,127.2" fill="none" stroke="#dbe9e9" stroke-width="9.6" stroke-linejoin="round" stroke-linecap="round"/><polyline points="-110.3,61.6 -42.3,106.6 -31.3,130.6" fill="none" stroke="#8e8e8e" stroke-width="1.7" stroke-linejoin="round"/><polyline points="-121.4,67.9 -55.0,111.2 -44.0,134.2" fill="none" stroke="#19a5aa" stroke-width="15.5" stroke-linejoin="round" stroke-linecap="round"/><polyline points="-121.4,67.9 -55.0,111.2 -44.0,134.2" fill="none" stroke="#dbe9e9" stroke-width="9.6" stroke-linejoin="round" stroke-linecap="round"/><polyline points="-123.7,71.3 -57.3,114.6 -46.3,137.6" fill="none" stroke="#8e8e8e" stroke-width="1.7" stroke-linejoin="round"/><polyline points="-135.3,77.3 -70.0,119.2 -59.0,141.2" fill="none" stroke="#19a5aa" stroke-width="15.5" stroke-linejoin="round" stroke-linecap="round"/><polyline points="-135.3,77.3 -70.0,119.2 -59.0,141.2" fill="none" stroke="#dbe9e9" stroke-width="9.6" stroke-linejoin="round" stroke-linecap="round"/><polyline points="-137.6,80.7 -72.3,122.6 -61.3,144.6" fill="none" stroke="#8e8e8e" stroke-width="1.7" stroke-linejoin="round"/><polygon points="129.8,40.2 152.2,53.1 152.2,75.3 129.8,88.2 107.4,75.3 107.4,53.1" fill="#dbe9e9" stroke="#19a5aa" stroke-width="3.9"/><polyline points="109.4,54.2 129.3,65.0 149.7,54.2" fill="none" stroke="#19a5aa" stroke-width="0.9"/><line x1="129.3" y1="65.0" x2="129.3" y2="84.2" stroke="#8fd0d2" stroke-width="1"/><polygon points="131.4,72.4 149.2,63.4 149.2,70.3 131.4,79.9" fill="none" stroke="#19a5aa" stroke-width="0.9"/><polygon points="124.3,65.6 126.3,66.2 127.2,64.8 127.8,67.2 127.2,70.7 126.2,68.4 125.6,68.8" fill="#19a5aa"/></g><g transform="translate(748.5,1030.5) scale(-1,1)"><polygon points="-116.0,30.0 -116.0,53.0 0.5,123.8 118.0,52.5 118.0,30.0" fill="#231f20"/><polygon points="0.0,-112.3 125.2,-37.4 125.2,37.4 0.0,112.3 -125.2,37.4 -125.2,-37.4" fill="#dae8e7" stroke="#231f20" stroke-width="4.6"/><polygon points="-41.8,-14.8 -12.0,2.8 -41.8,20.4 -71.6,2.8" fill="none" stroke="#8a8a8a" stroke-width="0.8"/><polygon points="-41.8,-11.3 -19.0,2.8 -41.8,16.9 -64.6,2.8" fill="url(#dots)"/><polygon points="40.3,-14.8 70.1,2.8 40.3,20.4 10.5,2.8" fill="none" stroke="#8a8a8a" stroke-width="0.8"/><polygon points="40.3,-11.3 63.1,2.8 40.3,16.9 17.5,2.8" fill="url(#dots)"/><polygon points="-46.4,41.6 -16.6,59.2 -46.4,76.8 -76.2,59.2" fill="none" stroke="#8a8a8a" stroke-width="0.8"/><polygon points="-46.4,45.1 -23.6,59.2 -46.4,73.3 -69.2,59.2" fill="url(#dots)"/><polygon points="48.0,41.1 77.8,58.7 48.0,76.3 18.2,58.7" fill="none" stroke="#8a8a8a" stroke-width="0.8"/><polygon points="48.0,44.6 70.8,58.7 48.0,72.8 25.2,58.7" fill="url(#dots)"/><polygon points="0.0,-103.7 30.0,-86.4 0.0,-69.1 -30.0,-86.4" fill="#fff" stroke="#2d6a67" stroke-width="0.9"/><line x1="-20.8" y1="-90.5" x2="-20.8" y2="-82.3" stroke="#2d6a67" stroke-width="0.85"/><line x1="-15.6" y1="-90.6" x2="-15.6" y2="-82.2" stroke="#2d6a67" stroke-width="0.85"/><line x1="-10.4" y1="-95.2" x2="-10.4" y2="-77.6" stroke="#2d6a67" stroke-width="0.85"/><line x1="-5.2" y1="-93.6" x2="-5.2" y2="-79.2" stroke="#2d6a67" stroke-width="0.85"/><line x1="0.0" y1="-99.9" x2="0.0" y2="-72.9" stroke="#2d6a67" stroke-width="0.85"/><line x1="5.2" y1="-93.6" x2="5.2" y2="-79.2" stroke="#2d6a67" stroke-width="0.85"/><line x1="10.4" y1="-95.2" x2="10.4" y2="-77.6" stroke="#2d6a67" stroke-width="0.85"/><line x1="15.6" y1="-90.6" x2="15.6" y2="-82.2" stroke="#2d6a67" stroke-width="0.85"/><line x1="20.8" y1="-90.5" x2="20.8" y2="-82.3" stroke="#2d6a67" stroke-width="0.85"/><polygon points="-30.0,-86.4 0.0,-69.1 0.0,-56.4 -30.0,-73.7" fill="#fff"/><polygon points="-28.5,-83.8 -1.5,-68.3 -1.5,-58.8 -28.5,-74.3" fill="#2d6a67"/><circle cx="-25.5" cy="-79.4" r="1.9" fill="#fff"/><polygon points="-30.0,-86.4 0.0,-69.1 0.0,-56.4 -30.0,-73.7" fill="none" stroke="#2d6a67" stroke-width="0.8"/><polygon points="-30.0,-73.7 0.0,-56.4 0.0,-43.7 -30.0,-61.0" fill="url(#xh)"/><polygon points="-30.0,-73.7 0.0,-56.4 0.0,-43.7 -30.0,-61.0" fill="none" stroke="#2d6a67" stroke-width="0.8"/><polygon points="-30.0,-61.0 0.0,-43.7 0.0,-31.0 -30.0,-48.3" fill="#fff"/><polygon points="-28.5,-58.4 -1.5,-42.9 -1.5,-33.4 -28.5,-48.9" fill="#2d6a67"/><circle cx="-25.5" cy="-54.0" r="1.9" fill="#fff"/><polygon points="-30.0,-61.0 0.0,-43.7 0.0,-31.0 -30.0,-48.3" fill="none" stroke="#2d6a67" stroke-width="0.8"/><polygon points="-30.0,-48.3 0.0,-31.0 0.0,-18.3 -30.0,-35.6" fill="url(#vh)"/><polygon points="-30.0,-48.3 0.0,-31.0 0.0,-18.3 -30.0,-35.6" fill="none" stroke="#2d6a67" stroke-width="0.8"/><polygon points="-30.0,-35.6 0.0,-18.3 0.0,-5.6 -30.0,-22.9" fill="#fff"/><line x1="-20.1" y1="-22.5" x2="-14.4" y2="-19.3" stroke="#2d6a67" stroke-width="1.9"/><circle cx="-10.8" cy="-17.2" r="1.45" fill="#2d6a67"/><circle cx="-6.3" cy="-14.6" r="1.45" fill="#2d6a67"/><polygon points="-30.0,-35.6 0.0,-18.3 0.0,-5.6 -30.0,-22.9" fill="none" stroke="#2d6a67" stroke-width="0.8"/><polygon points="0.0,-69.1 30.0,-86.4 30.0,-73.7 0.0,-56.4" fill="url(#xh)"/><polygon points="0.0,-69.1 30.0,-86.4 30.0,-73.7 0.0,-56.4" fill="none" stroke="#2d6a67" stroke-width="0.8"/><polygon points="0.0,-56.4 30.0,-73.7 30.0,-61.0 0.0,-43.7" fill="#fff"/><circle cx="6.0" cy="-52.5" r="1.45" fill="#2d6a67"/><circle cx="10.5" cy="-55.1" r="1.45" fill="#2d6a67"/><line x1="14.1" y1="-57.2" x2="19.8" y2="-60.5" stroke="#2d6a67" stroke-width="1.9"/><polygon points="0.0,-56.4 30.0,-73.7 30.0,-61.0 0.0,-43.7" fill="none" stroke="#2d6a67" stroke-width="0.8"/><polygon points="0.0,-43.7 30.0,-61.0 30.0,-48.3 0.0,-31.0" fill="url(#xh)"/><polygon points="0.0,-43.7 30.0,-61.0 30.0,-48.3 0.0,-31.0" fill="none" stroke="#2d6a67" stroke-width="0.8"/><polygon points="0.0,-31.0 30.0,-48.3 30.0,-35.6 0.0,-18.3" fill="#fff"/><circle cx="6.0" cy="-27.1" r="1.45" fill="#2d6a67"/><circle cx="10.5" cy="-29.7" r="1.45" fill="#2d6a67"/><line x1="14.1" y1="-31.8" x2="19.8" y2="-35.1" stroke="#2d6a67" stroke-width="1.9"/><polygon points="0.0,-31.0 30.0,-48.3 30.0,-35.6 0.0,-18.3" fill="none" stroke="#2d6a67" stroke-width="0.8"/><polygon points="0.0,-18.3 30.0,-35.6 30.0,-22.9 0.0,-5.6" fill="url(#xh)"/><polygon points="0.0,-18.3 30.0,-35.6 30.0,-22.9 0.0,-5.6" fill="none" stroke="#2d6a67" stroke-width="0.8"/><polyline points="-30.0,-86.4 -30.0,-22.9 0.0,-5.6 30.0,-22.9 30.0,-86.4" fill="none" stroke="#2d6a67" stroke-width="1.1"/><polygon points="-88.6,-49.5 -58.6,-32.2 -88.6,-14.9 -118.6,-32.2" fill="#fff" stroke="#2d6a67" stroke-width="0.9"/><polygon points="-88.6,-45.5 -65.6,-32.2 -88.6,-18.9 -111.6,-32.2" fill="url(#dots2)"/><polygon points="-118.6,-32.2 -88.6,-14.9 -88.6,-2.2 -118.6,-19.5" fill="#fff"/><line x1="-108.7" y1="-19.1" x2="-103.0" y2="-15.9" stroke="#2d6a67" stroke-width="1.9"/><circle cx="-99.4" cy="-13.8" r="1.45" fill="#2d6a67"/><circle cx="-94.9" cy="-11.2" r="1.45" fill="#2d6a67"/><polygon points="-118.6,-32.2 -88.6,-14.9 -88.6,-2.2 -118.6,-19.5" fill="none" stroke="#2d6a67" stroke-width="0.8"/><polygon points="-118.6,-19.5 -88.6,-2.2 -88.6,10.5 -118.6,-6.8" fill="url(#vh)"/><polygon points="-118.6,-19.5 -88.6,-2.2 -88.6,10.5 -118.6,-6.8" fill="none" stroke="#2d6a67" stroke-width="0.8"/><polygon points="-118.6,-6.8 -88.6,10.5 -88.6,23.2 -118.6,5.9" fill="#fff"/><polygon points="-117.1,-4.2 -90.1,11.3 -90.1,20.8 -117.1,5.3" fill="#2d6a67"/><circle cx="-114.1" cy="0.2" r="1.9" fill="#fff"/><polygon points="-118.6,-6.8 -88.6,10.5 -88.6,23.2 -118.6,5.9" fill="none" stroke="#2d6a67" stroke-width="0.8"/><polygon points="-118.6,5.9 -88.6,23.2 -88.6,35.9 -118.6,18.6" fill="url(#xh)"/><polygon points="-118.6,5.9 -88.6,23.2 -88.6,35.9 -118.6,18.6" fill="none" stroke="#2d6a67" stroke-width="0.8"/><polygon points="-118.6,18.6 -88.6,35.9 -88.6,48.6 -118.6,31.3" fill="url(#vh)"/><polygon points="-118.6,18.6 -88.6,35.9 -88.6,48.6 -118.6,31.3" fill="none" stroke="#2d6a67" stroke-width="0.8"/><polygon points="-88.6,-14.9 -58.6,-32.2 -58.6,-19.5 -88.6,-2.2" fill="url(#xh)"/><polygon points="-88.6,-14.9 -58.6,-32.2 -58.6,-19.5 -88.6,-2.2" fill="none" stroke="#2d6a67" stroke-width="0.8"/><polygon points="-88.6,-2.2 -58.6,-19.5 -58.6,-6.8 -88.6,10.5" fill="#fff"/><circle cx="-82.6" cy="1.7" r="1.45" fill="#2d6a67"/><circle cx="-78.1" cy="-0.9" r="1.45" fill="#2d6a67"/><line x1="-74.5" y1="-3.0" x2="-68.8" y2="-6.3" stroke="#2d6a67" stroke-width="1.9"/><polygon points="-88.6,-2.2 -58.6,-19.5 -58.6,-6.8 -88.6,10.5" fill="none" stroke="#2d6a67" stroke-width="0.8"/><polygon points="-88.6,10.5 -58.6,-6.8 -58.6,5.9 -88.6,23.2" fill="url(#xh)"/><polygon points="-88.6,10.5 -58.6,-6.8 -58.6,5.9 -88.6,23.2" fill="none" stroke="#2d6a67" stroke-width="0.8"/><polygon points="-88.6,23.2 -58.6,5.9 -58.6,18.6 -88.6,35.9" fill="#fff"/><circle cx="-82.6" cy="27.1" r="1.45" fill="#2d6a67"/><circle cx="-78.1" cy="24.5" r="1.45" fill="#2d6a67"/><line x1="-74.5" y1="22.4" x2="-68.8" y2="19.1" stroke="#2d6a67" stroke-width="1.9"/><polygon points="-88.6,23.2 -58.6,5.9 -58.6,18.6 -88.6,35.9" fill="none" stroke="#2d6a67" stroke-width="0.8"/><polygon points="-88.6,35.9 -58.6,18.6 -58.6,31.3 -88.6,48.6" fill="#fff"/><circle cx="-82.6" cy="39.8" r="1.45" fill="#2d6a67"/><circle cx="-78.1" cy="37.2" r="1.45" fill="#2d6a67"/><line x1="-74.5" y1="35.1" x2="-68.8" y2="31.8" stroke="#2d6a67" stroke-width="1.9"/><polygon points="-88.6,35.9 -58.6,18.6 -58.6,31.3 -88.6,48.6" fill="none" stroke="#2d6a67" stroke-width="0.8"/><polyline points="-118.6,-32.2 -118.6,31.3 -88.6,48.6 -58.6,31.3 -58.6,-32.2" fill="none" stroke="#2d6a67" stroke-width="1.1"/><polygon points="87.0,-48.5 117.0,-31.2 87.0,-13.9 57.0,-31.2" fill="#fff" stroke="#2d6a67" stroke-width="0.9"/><polygon points="87.0,-44.5 110.0,-31.2 87.0,-17.9 64.0,-31.2" fill="url(#dots2)"/><polygon points="57.0,-31.2 87.0,-13.9 87.0,-1.2 57.0,-18.5" fill="url(#xh)"/><polygon points="57.0,-31.2 87.0,-13.9 87.0,-1.2 57.0,-18.5" fill="none" stroke="#2d6a67" stroke-width="0.8"/><polygon points="57.0,-18.5 87.0,-1.2 87.0,11.5 57.0,-5.8" fill="url(#vh)"/><polygon points="57.0,-18.5 87.0,-1.2 87.0,11.5 57.0,-5.8" fill="none" stroke="#2d6a67" stroke-width="0.8"/><polygon points="57.0,-5.8 87.0,11.5 87.0,24.2 57.0,6.9" fill="#fff"/><polygon points="58.5,-3.2 85.5,12.3 85.5,21.8 58.5,6.3" fill="#2d6a67"/><circle cx="61.5" cy="1.2" r="1.9" fill="#fff"/><polygon points="57.0,-5.8 87.0,11.5 87.0,24.2 57.0,6.9" fill="none" stroke="#2d6a67" stroke-width="0.8"/><polygon points="57.0,6.9 87.0,24.2 87.0,36.9 57.0,19.6" fill="url(#xh)"/><polygon points="57.0,6.9 87.0,24.2 87.0,36.9 57.0,19.6" fill="none" stroke="#2d6a67" stroke-width="0.8"/><polygon points="57.0,19.6 87.0,36.9 87.0,49.6 57.0,32.3" fill="url(#vh)"/><polygon points="57.0,19.6 87.0,36.9 87.0,49.6 57.0,32.3" fill="none" stroke="#2d6a67" stroke-width="0.8"/><polygon points="87.0,-13.9 117.0,-31.2 117.0,-18.5 87.0,-1.2" fill="#fff"/><circle cx="93.0" cy="-10.0" r="1.45" fill="#2d6a67"/><circle cx="97.5" cy="-12.6" r="1.45" fill="#2d6a67"/><line x1="101.1" y1="-14.7" x2="106.8" y2="-18.0" stroke="#2d6a67" stroke-width="1.9"/><polygon points="87.0,-13.9 117.0,-31.2 117.0,-18.5 87.0,-1.2" fill="none" stroke="#2d6a67" stroke-width="0.8"/><polygon points="87.0,-1.2 117.0,-18.5 117.0,-5.8 87.0,11.5" fill="#fff"/><circle cx="93.0" cy="2.7" r="1.45" fill="#2d6a67"/><circle cx="97.5" cy="0.1" r="1.45" fill="#2d6a67"/><line x1="101.1" y1="-2.0" x2="106.8" y2="-5.3" stroke="#2d6a67" stroke-width="1.9"/><polygon points="87.0,-1.2 117.0,-18.5 117.0,-5.8 87.0,11.5" fill="none" stroke="#2d6a67" stroke-width="0.8"/><polygon points="87.0,11.5 117.0,-5.8 117.0,6.9 87.0,24.2" fill="url(#xh)"/><polygon points="87.0,11.5 117.0,-5.8 117.0,6.9 87.0,24.2" fill="none" stroke="#2d6a67" stroke-width="0.8"/><polygon points="87.0,24.2 117.0,6.9 117.0,19.6 87.0,36.9" fill="#fff"/><circle cx="93.0" cy="28.1" r="1.45" fill="#2d6a67"/><circle cx="97.5" cy="25.5" r="1.45" fill="#2d6a67"/><line x1="101.1" y1="23.4" x2="106.8" y2="20.1" stroke="#2d6a67" stroke-width="1.9"/><polygon points="87.0,24.2 117.0,6.9 117.0,19.6 87.0,36.9" fill="none" stroke="#2d6a67" stroke-width="0.8"/><polygon points="87.0,36.9 117.0,19.6 117.0,32.3 87.0,49.6" fill="#fff"/><circle cx="93.0" cy="40.8" r="1.45" fill="#2d6a67"/><circle cx="97.5" cy="38.2" r="1.45" fill="#2d6a67"/><line x1="101.1" y1="36.1" x2="106.8" y2="32.8" stroke="#2d6a67" stroke-width="1.9"/><polygon points="87.0,36.9 117.0,19.6 117.0,32.3 87.0,49.6" fill="none" stroke="#2d6a67" stroke-width="0.8"/><polyline points="57.0,-31.2 57.0,32.3 87.0,49.6 117.0,32.3 117.0,-31.2" fill="none" stroke="#2d6a67" stroke-width="1.1"/><polygon points="0.0,9.2 30.0,26.5 0.0,43.8 -30.0,26.5" fill="#fff" stroke="#2d6a67" stroke-width="0.9"/><polygon points="0.0,13.2 23.0,26.5 0.0,39.8 -23.0,26.5" fill="url(#dots2)"/><polygon points="-30.0,26.5 0.0,43.8 0.0,56.5 -30.0,39.2" fill="#fff"/><line x1="-20.1" y1="39.6" x2="-14.4" y2="42.8" stroke="#2d6a67" stroke-width="1.9"/><circle cx="-10.8" cy="44.9" r="1.45" fill="#2d6a67"/><circle cx="-6.3" cy="47.5" r="1.45" fill="#2d6a67"/><polygon points="-30.0,26.5 0.0,43.8 0.0,56.5 -30.0,39.2" fill="none" stroke="#2d6a67" stroke-width="0.8"/><polygon points="-30.0,39.2 0.0,56.5 0.0,69.2 -30.0,51.9" fill="url(#xh)"/><polygon points="-30.0,39.2 0.0,56.5 0.0,69.2 -30.0,51.9" fill="none" stroke="#2d6a67" stroke-width="0.8"/><polygon points="-30.0,51.9 0.0,69.2 0.0,81.9 -30.0,64.6" fill="#fff"/><polygon points="-28.5,54.5 -1.5,70.0 -1.5,79.5 -28.5,64.0" fill="#2d6a67"/><circle cx="-25.5" cy="59.0" r="1.9" fill="#fff"/><polygon points="-30.0,51.9 0.0,69.2 0.0,81.9 -30.0,64.6" fill="none" stroke="#2d6a67" stroke-width="0.8"/><polygon points="-30.0,64.6 0.0,81.9 0.0,94.6 -30.0,77.3" fill="url(#vh)"/><polygon points="-30.0,64.6 0.0,81.9 0.0,94.6 -30.0,77.3" fill="none" stroke="#2d6a67" stroke-width="0.8"/><polygon points="-30.0,77.3 0.0,94.6 0.0,107.3 -30.0,90.0" fill="#fff"/><line x1="-20.1" y1="90.4" x2="-14.4" y2="93.6" stroke="#2d6a67" stroke-width="1.9"/><circle cx="-10.8" cy="95.7" r="1.45" fill="#2d6a67"/><circle cx="-6.3" cy="98.3" r="1.45" fill="#2d6a67"/><polygon points="-30.0,77.3 0.0,94.6 0.0,107.3 -30.0,90.0" fill="none" stroke="#2d6a67" stroke-width="0.8"/><polygon points="0.0,43.8 30.0,26.5 30.0,39.2 0.0,56.5" fill="url(#xh)"/><polygon points="0.0,43.8 30.0,26.5 30.0,39.2 0.0,56.5" fill="none" stroke="#2d6a67" stroke-width="0.8"/><polygon points="0.0,56.5 30.0,39.2 30.0,51.9 0.0,69.2" fill="#fff"/><circle cx="6.0" cy="60.4" r="1.45" fill="#2d6a67"/><circle cx="10.5" cy="57.8" r="1.45" fill="#2d6a67"/><line x1="14.1" y1="55.7" x2="19.8" y2="52.4" stroke="#2d6a67" stroke-width="1.9"/><polygon points="0.0,56.5 30.0,39.2 30.0,51.9 0.0,69.2" fill="none" stroke="#2d6a67" stroke-width="0.8"/><polygon points="0.0,69.2 30.0,51.9 30.0,64.6 0.0,81.9" fill="url(#xh)"/><polygon points="0.0,69.2 30.0,51.9 30.0,64.6 0.0,81.9" fill="none" stroke="#2d6a67" stroke-width="0.8"/><polygon points="0.0,81.9 30.0,64.6 30.0,77.3 0.0,94.6" fill="#fff"/><circle cx="6.0" cy="85.8" r="1.45" fill="#2d6a67"/><circle cx="10.5" cy="83.2" r="1.45" fill="#2d6a67"/><line x1="14.1" y1="81.1" x2="19.8" y2="77.8" stroke="#2d6a67" stroke-width="1.9"/><polygon points="0.0,81.9 30.0,64.6 30.0,77.3 0.0,94.6" fill="none" stroke="#2d6a67" stroke-width="0.8"/><polygon points="0.0,94.6 30.0,77.3 30.0,90.0 0.0,107.3" fill="url(#xh)"/><polygon points="0.0,94.6 30.0,77.3 30.0,90.0 0.0,107.3" fill="none" stroke="#2d6a67" stroke-width="0.8"/><polyline points="-30.0,26.5 -30.0,90.0 0.0,107.3 30.0,90.0 30.0,26.5" fill="none" stroke="#2d6a67" stroke-width="1.1"/><polygon points="-169.0,83.2 -149.0,72.2 -120.0,89.2 -142.0,102.2" fill="#dbe9e9" stroke="#19a5aa" stroke-width="3.4" stroke-linejoin="round"/><polygon points="-83.0,141.2 -32.0,112.2 -6.0,128.2 -57.0,159.2" fill="#dbe9e9" stroke="#19a5aa" stroke-width="3.4" stroke-linejoin="round"/><polyline points="-108.0,58.2 -40.0,103.2 -29.0,127.2" fill="none" stroke="#19a5aa" stroke-width="15.5" stroke-linejoin="round" stroke-linecap="round"/><polyline points="-108.0,58.2 -40.0,103.2 -29.0,127.2" fill="none" stroke="#dbe9e9" stroke-width="9.6" stroke-linejoin="round" stroke-linecap="round"/><polyline points="-110.3,61.6 -42.3,106.6 -31.3,130.6" fill="none" stroke="#8e8e8e" stroke-width="1.7" stroke-linejoin="round"/><polyline points="-121.4,67.9 -55.0,111.2 -44.0,134.2" fill="none" stroke="#19a5aa" stroke-width="15.5" stroke-linejoin="round" stroke-linecap="round"/><polyline points="-121.4,67.9 -55.0,111.2 -44.0,134.2" fill="none" stroke="#dbe9e9" stroke-width="9.6" stroke-linejoin="round" stroke-linecap="round"/><polyline points="-123.7,71.3 -57.3,114.6 -46.3,137.6" fill="none" stroke="#8e8e8e" stroke-width="1.7" stroke-linejoin="round"/><polyline points="-135.3,77.3 -70.0,119.2 -59.0,141.2" fill="none" stroke="#19a5aa" stroke-width="15.5" stroke-linejoin="round" stroke-linecap="round"/><polyline points="-135.3,77.3 -70.0,119.2 -59.0,141.2" fill="none" stroke="#dbe9e9" stroke-width="9.6" stroke-linejoin="round" stroke-linecap="round"/><polyline points="-137.6,80.7 -72.3,122.6 -61.3,144.6" fill="none" stroke="#8e8e8e" stroke-width="1.7" stroke-linejoin="round"/><polygon points="129.8,40.2 152.2,53.1 152.2,75.3 129.8,88.2 107.4,75.3 107.4,53.1" fill="#dbe9e9" stroke="#19a5aa" stroke-width="3.9"/><polyline points="109.4,54.2 129.3,65.0 149.7,54.2" fill="none" stroke="#19a5aa" stroke-width="0.9"/><line x1="129.3" y1="65.0" x2="129.3" y2="84.2" stroke="#8fd0d2" stroke-width="1"/><polygon points="131.4,72.4 149.2,63.4 149.2,70.3 131.4,79.9" fill="none" stroke="#19a5aa" stroke-width="0.9"/><polygon points="124.3,65.6 126.3,66.2 127.2,64.8 127.8,67.2 127.2,70.7 126.2,68.4 125.6,68.8" fill="#19a5aa"/></g><polygon points="520.7,76.3 594.0,119.3 594.0,191.7 520.7,234.7 447.4,191.7 447.4,119.3" fill="#dae8e7" stroke="#231f20" stroke-width="4.2"/><polygon points="519.9,84.2 548.9,101.5 519.9,118.8 490.9,101.5" fill="#fff" stroke="#2d6a67" stroke-width="0.9"/><line x1="499.1" y1="97.7" x2="499.1" y2="105.3" stroke="#2d6a67" stroke-width="0.85"/><line x1="504.3" y1="97.5" x2="504.3" y2="105.5" stroke="#2d6a67" stroke-width="0.85"/><line x1="509.5" y1="92.8" x2="509.5" y2="110.2" stroke="#2d6a67" stroke-width="0.85"/><line x1="514.7" y1="94.4" x2="514.7" y2="108.6" stroke="#2d6a67" stroke-width="0.85"/><line x1="519.9" y1="88.0" x2="519.9" y2="115.0" stroke="#2d6a67" stroke-width="0.85"/><line x1="525.1" y1="94.4" x2="525.1" y2="108.6" stroke="#2d6a67" stroke-width="0.85"/><line x1="530.3" y1="92.8" x2="530.3" y2="110.2" stroke="#2d6a67" stroke-width="0.85"/><line x1="535.5" y1="97.5" x2="535.5" y2="105.5" stroke="#2d6a67" stroke-width="0.85"/><line x1="540.7" y1="97.7" x2="540.7" y2="105.3" stroke="#2d6a67" stroke-width="0.85"/><polygon points="490.9,101.5 519.9,118.8 519.9,132.0 490.9,114.7" fill="#fff"/><polygon points="492.4,104.1 518.4,119.6 518.4,129.6 492.4,114.1" fill="#2d6a67"/><circle cx="495.4" cy="108.8" r="1.9" fill="#fff"/><polygon points="490.9,101.5 519.9,118.8 519.9,132.0 490.9,114.7" fill="none" stroke="#2d6a67" stroke-width="0.8"/><polygon points="490.9,114.7 519.9,132.0 519.9,145.2 490.9,127.9" fill="url(#xh)"/><polygon points="490.9,114.7 519.9,132.0 519.9,145.2 490.9,127.9" fill="none" stroke="#2d6a67" stroke-width="0.8"/><polygon points="490.9,127.9 519.9,145.2 519.9,158.4 490.9,141.1" fill="#fff"/><polygon points="492.4,130.5 518.4,146.0 518.4,156.0 492.4,140.5" fill="#2d6a67"/><circle cx="495.4" cy="135.2" r="1.9" fill="#fff"/><polygon points="490.9,127.9 519.9,145.2 519.9,158.4 490.9,141.1" fill="none" stroke="#2d6a67" stroke-width="0.8"/><polygon points="490.9,141.1 519.9,158.4 519.9,171.6 490.9,154.3" fill="url(#xh)"/><polygon points="490.9,141.1 519.9,158.4 519.9,171.6 490.9,154.3" fill="none" stroke="#2d6a67" stroke-width="0.8"/><polygon points="490.9,154.3 519.9,171.6 519.9,184.8 490.9,167.5" fill="#fff"/><line x1="500.5" y1="167.6" x2="506.0" y2="170.9" stroke="#2d6a67" stroke-width="1.9"/><circle cx="509.5" cy="173.0" r="1.45" fill="#2d6a67"/><circle cx="513.8" cy="175.6" r="1.45" fill="#2d6a67"/><polygon points="490.9,154.3 519.9,171.6 519.9,184.8 490.9,167.5" fill="none" stroke="#2d6a67" stroke-width="0.8"/><polygon points="519.9,118.8 548.9,101.5 548.9,114.7 519.9,132.0" fill="#fff"/><polygon points="521.4,119.6 547.4,104.1 547.4,114.1 521.4,129.6" fill="#2d6a67"/><circle cx="544.4" cy="108.8" r="1.9" fill="#fff"/><polygon points="519.9,118.8 548.9,101.5 548.9,114.7 519.9,132.0" fill="none" stroke="#2d6a67" stroke-width="0.8"/><polygon points="519.9,132.0 548.9,114.7 548.9,127.9 519.9,145.2" fill="url(#xh)"/><polygon points="519.9,132.0 548.9,114.7 548.9,127.9 519.9,145.2" fill="none" stroke="#2d6a67" stroke-width="0.8"/><polygon points="519.9,145.2 548.9,127.9 548.9,141.1 519.9,158.4" fill="#fff"/><polygon points="521.4,146.0 547.4,130.5 547.4,140.5 521.4,156.0" fill="#2d6a67"/><circle cx="544.4" cy="135.2" r="1.9" fill="#fff"/><polygon points="519.9,145.2 548.9,127.9 548.9,141.1 519.9,158.4" fill="none" stroke="#2d6a67" stroke-width="0.8"/><polygon points="519.9,158.4 548.9,141.1 548.9,154.3 519.9,171.6" fill="url(#vh)"/><polygon points="519.9,158.4 548.9,141.1 548.9,154.3 519.9,171.6" fill="none" stroke="#2d6a67" stroke-width="0.8"/><polygon points="519.9,171.6 548.9,154.3 548.9,167.5 519.9,184.8" fill="#fff"/><circle cx="525.7" cy="175.7" r="1.45" fill="#2d6a67"/><circle cx="530.1" cy="173.1" r="1.45" fill="#2d6a67"/><line x1="533.5" y1="171.1" x2="539.0" y2="167.8" stroke="#2d6a67" stroke-width="1.9"/><polygon points="519.9,171.6 548.9,154.3 548.9,167.5 519.9,184.8" fill="none" stroke="#2d6a67" stroke-width="0.8"/><polyline points="490.9,101.5 490.9,167.5 519.9,184.8 548.9,167.5 548.9,101.5" fill="none" stroke="#2d6a67" stroke-width="1.1"/><polygon points="483.2,106.7 512.2,124.0 483.2,141.3 454.2,124.0" fill="#fff" stroke="#2d6a67" stroke-width="0.9"/><line x1="462.4" y1="120.2" x2="462.4" y2="127.8" stroke="#2d6a67" stroke-width="0.85"/><line x1="467.6" y1="120.0" x2="467.6" y2="128.0" stroke="#2d6a67" stroke-width="0.85"/><line x1="472.8" y1="115.3" x2="472.8" y2="132.7" stroke="#2d6a67" stroke-width="0.85"/><line x1="478.0" y1="116.9" x2="478.0" y2="131.1" stroke="#2d6a67" stroke-width="0.85"/><line x1="483.2" y1="110.5" x2="483.2" y2="137.5" stroke="#2d6a67" stroke-width="0.85"/><line x1="488.4" y1="116.9" x2="488.4" y2="131.1" stroke="#2d6a67" stroke-width="0.85"/><line x1="493.6" y1="115.3" x2="493.6" y2="132.7" stroke="#2d6a67" stroke-width="0.85"/><line x1="498.8" y1="120.0" x2="498.8" y2="128.0" stroke="#2d6a67" stroke-width="0.85"/><line x1="504.0" y1="120.2" x2="504.0" y2="127.8" stroke="#2d6a67" stroke-width="0.85"/><polygon points="454.2,124.0 483.2,141.3 483.2,154.5 454.2,137.2" fill="#fff"/><polygon points="455.7,126.6 481.7,142.1 481.7,152.1 455.7,136.6" fill="#2d6a67"/><circle cx="458.7" cy="131.3" r="1.9" fill="#fff"/><polygon points="454.2,124.0 483.2,141.3 483.2,154.5 454.2,137.2" fill="none" stroke="#2d6a67" stroke-width="0.8"/><polygon points="454.2,137.2 483.2,154.5 483.2,167.7 454.2,150.4" fill="url(#xh)"/><polygon points="454.2,137.2 483.2,154.5 483.2,167.7 454.2,150.4" fill="none" stroke="#2d6a67" stroke-width="0.8"/><polygon points="454.2,150.4 483.2,167.7 483.2,180.9 454.2,163.6" fill="#fff"/><polygon points="455.7,153.0 481.7,168.5 481.7,178.5 455.7,163.0" fill="#2d6a67"/><circle cx="458.7" cy="157.7" r="1.9" fill="#fff"/><polygon points="454.2,150.4 483.2,167.7 483.2,180.9 454.2,163.6" fill="none" stroke="#2d6a67" stroke-width="0.8"/><polygon points="454.2,163.6 483.2,180.9 483.2,194.1 454.2,176.8" fill="url(#vh)"/><polygon points="454.2,163.6 483.2,180.9 483.2,194.1 454.2,176.8" fill="none" stroke="#2d6a67" stroke-width="0.8"/><polygon points="454.2,176.8 483.2,194.1 483.2,207.3 454.2,190.0" fill="#fff"/><line x1="463.8" y1="190.1" x2="469.3" y2="193.4" stroke="#2d6a67" stroke-width="1.9"/><circle cx="472.8" cy="195.5" r="1.45" fill="#2d6a67"/><circle cx="477.1" cy="198.1" r="1.45" fill="#2d6a67"/><polygon points="454.2,176.8 483.2,194.1 483.2,207.3 454.2,190.0" fill="none" stroke="#2d6a67" stroke-width="0.8"/><polygon points="483.2,141.3 512.2,124.0 512.2,137.2 483.2,154.5" fill="url(#xh)"/><polygon points="483.2,141.3 512.2,124.0 512.2,137.2 483.2,154.5" fill="none" stroke="#2d6a67" stroke-width="0.8"/><polygon points="483.2,154.5 512.2,137.2 512.2,150.4 483.2,167.7" fill="#fff"/><circle cx="489.0" cy="158.6" r="1.45" fill="#2d6a67"/><circle cx="493.4" cy="156.0" r="1.45" fill="#2d6a67"/><line x1="496.8" y1="154.0" x2="502.3" y2="150.7" stroke="#2d6a67" stroke-width="1.9"/><polygon points="483.2,154.5 512.2,137.2 512.2,150.4 483.2,167.7" fill="none" stroke="#2d6a67" stroke-width="0.8"/><polygon points="483.2,167.7 512.2,150.4 512.2,163.6 483.2,180.9" fill="url(#xh)"/><polygon points="483.2,167.7 512.2,150.4 512.2,163.6 483.2,180.9" fill="none" stroke="#2d6a67" stroke-width="0.8"/><polygon points="483.2,180.9 512.2,163.6 512.2,176.8 483.2,194.1" fill="#fff"/><circle cx="489.0" cy="185.0" r="1.45" fill="#2d6a67"/><circle cx="493.4" cy="182.4" r="1.45" fill="#2d6a67"/><line x1="496.8" y1="180.4" x2="502.3" y2="177.1" stroke="#2d6a67" stroke-width="1.9"/><polygon points="483.2,180.9 512.2,163.6 512.2,176.8 483.2,194.1" fill="none" stroke="#2d6a67" stroke-width="0.8"/><polygon points="483.2,194.1 512.2,176.8 512.2,190.0 483.2,207.3" fill="url(#xh)"/><polygon points="483.2,194.1 512.2,176.8 512.2,190.0 483.2,207.3" fill="none" stroke="#2d6a67" stroke-width="0.8"/><polyline points="454.2,124.0 454.2,190.0 483.2,207.3 512.2,190.0 512.2,124.0" fill="none" stroke="#2d6a67" stroke-width="1.1"/><polygon points="556.0,105.8 585.0,123.1 556.0,140.4 527.0,123.1" fill="#fff" stroke="#2d6a67" stroke-width="0.9"/><line x1="535.2" y1="119.3" x2="535.2" y2="126.9" stroke="#2d6a67" stroke-width="0.85"/><line x1="540.4" y1="119.1" x2="540.4" y2="127.1" stroke="#2d6a67" stroke-width="0.85"/><line x1="545.6" y1="114.4" x2="545.6" y2="131.8" stroke="#2d6a67" stroke-width="0.85"/><line x1="550.8" y1="116.0" x2="550.8" y2="130.2" stroke="#2d6a67" stroke-width="0.85"/><line x1="556.0" y1="109.6" x2="556.0" y2="136.6" stroke="#2d6a67" stroke-width="0.85"/><line x1="561.2" y1="116.0" x2="561.2" y2="130.2" stroke="#2d6a67" stroke-width="0.85"/><line x1="566.4" y1="114.4" x2="566.4" y2="131.8" stroke="#2d6a67" stroke-width="0.85"/><line x1="571.6" y1="119.1" x2="571.6" y2="127.1" stroke="#2d6a67" stroke-width="0.85"/><line x1="576.8" y1="119.3" x2="576.8" y2="126.9" stroke="#2d6a67" stroke-width="0.85"/><polygon points="527.0,123.1 556.0,140.4 556.0,153.6 527.0,136.3" fill="url(#xh)"/><polygon points="527.0,123.1 556.0,140.4 556.0,153.6 527.0,136.3" fill="none" stroke="#2d6a67" stroke-width="0.8"/><polygon points="527.0,136.3 556.0,153.6 556.0,166.8 527.0,149.5" fill="#fff"/><line x1="536.6" y1="149.6" x2="542.1" y2="152.9" stroke="#2d6a67" stroke-width="1.9"/><circle cx="545.6" cy="155.0" r="1.45" fill="#2d6a67"/><circle cx="549.9" cy="157.6" r="1.45" fill="#2d6a67"/><polygon points="527.0,136.3 556.0,153.6 556.0,166.8 527.0,149.5" fill="none" stroke="#2d6a67" stroke-width="0.8"/><polygon points="527.0,149.5 556.0,166.8 556.0,180.0 527.0,162.7" fill="url(#xh)"/><polygon points="527.0,149.5 556.0,166.8 556.0,180.0 527.0,162.7" fill="none" stroke="#2d6a67" stroke-width="0.8"/><polygon points="527.0,162.7 556.0,180.0 556.0,193.2 527.0,175.9" fill="#fff"/><line x1="536.6" y1="176.0" x2="542.1" y2="179.3" stroke="#2d6a67" stroke-width="1.9"/><circle cx="545.6" cy="181.4" r="1.45" fill="#2d6a67"/><circle cx="549.9" cy="184.0" r="1.45" fill="#2d6a67"/><polygon points="527.0,162.7 556.0,180.0 556.0,193.2 527.0,175.9" fill="none" stroke="#2d6a67" stroke-width="0.8"/><polygon points="527.0,175.9 556.0,193.2 556.0,206.4 527.0,189.1" fill="url(#xh)"/><polygon points="527.0,175.9 556.0,193.2 556.0,206.4 527.0,189.1" fill="none" stroke="#2d6a67" stroke-width="0.8"/><polygon points="556.0,140.4 585.0,123.1 585.0,136.3 556.0,153.6" fill="#fff"/><polygon points="557.5,141.2 583.5,125.7 583.5,135.7 557.5,151.2" fill="#2d6a67"/><circle cx="580.5" cy="130.4" r="1.9" fill="#fff"/><polygon points="556.0,140.4 585.0,123.1 585.0,136.3 556.0,153.6" fill="none" stroke="#2d6a67" stroke-width="0.8"/><polygon points="556.0,153.6 585.0,136.3 585.0,149.5 556.0,166.8" fill="url(#xh)"/><polygon points="556.0,153.6 585.0,136.3 585.0,149.5 556.0,166.8" fill="none" stroke="#2d6a67" stroke-width="0.8"/><polygon points="556.0,166.8 585.0,149.5 585.0,162.7 556.0,180.0" fill="#fff"/><polygon points="557.5,167.6 583.5,152.1 583.5,162.1 557.5,177.6" fill="#2d6a67"/><circle cx="580.5" cy="156.8" r="1.9" fill="#fff"/><polygon points="556.0,166.8 585.0,149.5 585.0,162.7 556.0,180.0" fill="none" stroke="#2d6a67" stroke-width="0.8"/><polygon points="556.0,180.0 585.0,162.7 585.0,175.9 556.0,193.2" fill="url(#vh)"/><polygon points="556.0,180.0 585.0,162.7 585.0,175.9 556.0,193.2" fill="none" stroke="#2d6a67" stroke-width="0.8"/><polygon points="556.0,193.2 585.0,175.9 585.0,189.1 556.0,206.4" fill="#fff"/><circle cx="561.8" cy="197.3" r="1.45" fill="#2d6a67"/><circle cx="566.1" cy="194.7" r="1.45" fill="#2d6a67"/><line x1="569.6" y1="192.7" x2="575.1" y2="189.4" stroke="#2d6a67" stroke-width="1.9"/><polygon points="556.0,193.2 585.0,175.9 585.0,189.1 556.0,206.4" fill="none" stroke="#2d6a67" stroke-width="0.8"/><polyline points="527.0,123.1 527.0,189.1 556.0,206.4 585.0,189.1 585.0,123.1" fill="none" stroke="#2d6a67" stroke-width="1.1"/><polygon points="519.9,130.2 548.9,147.5 519.9,164.8 490.9,147.5" fill="#fff" stroke="#2d6a67" stroke-width="0.9"/><line x1="499.1" y1="143.7" x2="499.1" y2="151.3" stroke="#2d6a67" stroke-width="0.85"/><line x1="504.3" y1="143.5" x2="504.3" y2="151.5" stroke="#2d6a67" stroke-width="0.85"/><line x1="509.5" y1="138.8" x2="509.5" y2="156.2" stroke="#2d6a67" stroke-width="0.85"/><line x1="514.7" y1="140.4" x2="514.7" y2="154.6" stroke="#2d6a67" stroke-width="0.85"/><line x1="519.9" y1="134.0" x2="519.9" y2="161.0" stroke="#2d6a67" stroke-width="0.85"/><line x1="525.1" y1="140.4" x2="525.1" y2="154.6" stroke="#2d6a67" stroke-width="0.85"/><line x1="530.3" y1="138.8" x2="530.3" y2="156.2" stroke="#2d6a67" stroke-width="0.85"/><line x1="535.5" y1="143.5" x2="535.5" y2="151.5" stroke="#2d6a67" stroke-width="0.85"/><line x1="540.7" y1="143.7" x2="540.7" y2="151.3" stroke="#2d6a67" stroke-width="0.85"/><polygon points="490.9,147.5 519.9,164.8 519.9,178.0 490.9,160.7" fill="url(#xh)"/><polygon points="490.9,147.5 519.9,164.8 519.9,178.0 490.9,160.7" fill="none" stroke="#2d6a67" stroke-width="0.8"/><polygon points="490.9,160.7 519.9,178.0 519.9,191.2 490.9,173.9" fill="#fff"/><line x1="500.5" y1="174.0" x2="506.0" y2="177.3" stroke="#2d6a67" stroke-width="1.9"/><circle cx="509.5" cy="179.4" r="1.45" fill="#2d6a67"/><circle cx="513.8" cy="182.0" r="1.45" fill="#2d6a67"/><polygon points="490.9,160.7 519.9,178.0 519.9,191.2 490.9,173.9" fill="none" stroke="#2d6a67" stroke-width="0.8"/><polygon points="490.9,173.9 519.9,191.2 519.9,204.4 490.9,187.1" fill="url(#xh)"/><polygon points="490.9,173.9 519.9,191.2 519.9,204.4 490.9,187.1" fill="none" stroke="#2d6a67" stroke-width="0.8"/><polygon points="490.9,187.1 519.9,204.4 519.9,217.6 490.9,200.3" fill="#fff"/><line x1="500.5" y1="200.4" x2="506.0" y2="203.7" stroke="#2d6a67" stroke-width="1.9"/><circle cx="509.5" cy="205.8" r="1.45" fill="#2d6a67"/><circle cx="513.8" cy="208.4" r="1.45" fill="#2d6a67"/><polygon points="490.9,187.1 519.9,204.4 519.9,217.6 490.9,200.3" fill="none" stroke="#2d6a67" stroke-width="0.8"/><polygon points="490.9,200.3 519.9,217.6 519.9,230.8 490.9,213.5" fill="url(#xh)"/><polygon points="490.9,200.3 519.9,217.6 519.9,230.8 490.9,213.5" fill="none" stroke="#2d6a67" stroke-width="0.8"/><polygon points="519.9,164.8 548.9,147.5 548.9,160.7 519.9,178.0" fill="#fff"/><polygon points="521.4,165.6 547.4,150.1 547.4,160.1 521.4,175.6" fill="#2d6a67"/><circle cx="544.4" cy="154.8" r="1.9" fill="#fff"/><polygon points="519.9,164.8 548.9,147.5 548.9,160.7 519.9,178.0" fill="none" stroke="#2d6a67" stroke-width="0.8"/><polygon points="519.9,178.0 548.9,160.7 548.9,173.9 519.9,191.2" fill="url(#xh)"/><polygon points="519.9,178.0 548.9,160.7 548.9,173.9 519.9,191.2" fill="none" stroke="#2d6a67" stroke-width="0.8"/><polygon points="519.9,191.2 548.9,173.9 548.9,187.1 519.9,204.4" fill="#fff"/><polygon points="521.4,192.0 547.4,176.5 547.4,186.5 521.4,202.0" fill="#2d6a67"/><circle cx="544.4" cy="181.2" r="1.9" fill="#fff"/><polygon points="519.9,191.2 548.9,173.9 548.9,187.1 519.9,204.4" fill="none" stroke="#2d6a67" stroke-width="0.8"/><polygon points="519.9,204.4 548.9,187.1 548.9,200.3 519.9,217.6" fill="url(#vh)"/><polygon points="519.9,204.4 548.9,187.1 548.9,200.3 519.9,217.6" fill="none" stroke="#2d6a67" stroke-width="0.8"/><polygon points="519.9,217.6 548.9,200.3 548.9,213.5 519.9,230.8" fill="#fff"/><circle cx="525.7" cy="221.7" r="1.45" fill="#2d6a67"/><circle cx="530.1" cy="219.1" r="1.45" fill="#2d6a67"/><line x1="533.5" y1="217.1" x2="539.0" y2="213.8" stroke="#2d6a67" stroke-width="1.9"/><polygon points="519.9,217.6 548.9,200.3 548.9,213.5 519.9,230.8" fill="none" stroke="#2d6a67" stroke-width="0.8"/><polyline points="490.9,147.5 490.9,213.5 519.9,230.8 548.9,213.5 548.9,147.5" fill="none" stroke="#2d6a67" stroke-width="1.1"/><polygon points="1035.7,955.5 1109.0,998.5 1109.0,1070.9 1035.7,1113.9 962.4,1070.9 962.4,998.5" fill="#dae8e7" stroke="#231f20" stroke-width="4.2"/><polygon points="1034.9,963.4 1063.9,980.7 1034.9,998.0 1005.9,980.7" fill="#fff" stroke="#2d6a67" stroke-width="0.9"/><line x1="1014.1" y1="976.9" x2="1014.1" y2="984.5" stroke="#2d6a67" stroke-width="0.85"/><line x1="1019.3" y1="976.7" x2="1019.3" y2="984.7" stroke="#2d6a67" stroke-width="0.85"/><line x1="1024.5" y1="972.0" x2="1024.5" y2="989.4" stroke="#2d6a67" stroke-width="0.85"/><line x1="1029.7" y1="973.6" x2="1029.7" y2="987.8" stroke="#2d6a67" stroke-width="0.85"/><line x1="1034.9" y1="967.2" x2="1034.9" y2="994.2" stroke="#2d6a67" stroke-width="0.85"/><line x1="1040.1" y1="973.6" x2="1040.1" y2="987.8" stroke="#2d6a67" stroke-width="0.85"/><line x1="1045.3" y1="972.0" x2="1045.3" y2="989.4" stroke="#2d6a67" stroke-width="0.85"/><line x1="1050.5" y1="976.7" x2="1050.5" y2="984.7" stroke="#2d6a67" stroke-width="0.85"/><line x1="1055.7" y1="976.9" x2="1055.7" y2="984.5" stroke="#2d6a67" stroke-width="0.85"/><polygon points="1005.9,980.7 1034.9,998.0 1034.9,1011.2 1005.9,993.9" fill="#fff"/><polygon points="1007.4,983.3 1033.4,998.8 1033.4,1008.8 1007.4,993.3" fill="#2d6a67"/><circle cx="1010.4" cy="988.0" r="1.9" fill="#fff"/><polygon points="1005.9,980.7 1034.9,998.0 1034.9,1011.2 1005.9,993.9" fill="none" stroke="#2d6a67" stroke-width="0.8"/><polygon points="1005.9,993.9 1034.9,1011.2 1034.9,1024.4 1005.9,1007.1" fill="url(#xh)"/><polygon points="1005.9,993.9 1034.9,1011.2 1034.9,1024.4 1005.9,1007.1" fill="none" stroke="#2d6a67" stroke-width="0.8"/><polygon points="1005.9,1007.1 1034.9,1024.4 1034.9,1037.6 1005.9,1020.3" fill="#fff"/><polygon points="1007.4,1009.7 1033.4,1025.2 1033.4,1035.2 1007.4,1019.7" fill="#2d6a67"/><circle cx="1010.4" cy="1014.4" r="1.9" fill="#fff"/><polygon points="1005.9,1007.1 1034.9,1024.4 1034.9,1037.6 1005.9,1020.3" fill="none" stroke="#2d6a67" stroke-width="0.8"/><polygon points="1005.9,1020.3 1034.9,1037.6 1034.9,1050.8 1005.9,1033.5" fill="url(#xh)"/><polygon points="1005.9,1020.3 1034.9,1037.6 1034.9,1050.8 1005.9,1033.5" fill="none" stroke="#2d6a67" stroke-width="0.8"/><polygon points="1005.9,1033.5 1034.9,1050.8 1034.9,1064.0 1005.9,1046.7" fill="#fff"/><line x1="1015.5" y1="1046.8" x2="1021.0" y2="1050.1" stroke="#2d6a67" stroke-width="1.9"/><circle cx="1024.5" cy="1052.2" r="1.45" fill="#2d6a67"/><circle cx="1028.8" cy="1054.8" r="1.45" fill="#2d6a67"/><polygon points="1005.9,1033.5 1034.9,1050.8 1034.9,1064.0 1005.9,1046.7" fill="none" stroke="#2d6a67" stroke-width="0.8"/><polygon points="1034.9,998.0 1063.9,980.7 1063.9,993.9 1034.9,1011.2" fill="#fff"/><polygon points="1036.4,998.8 1062.4,983.3 1062.4,993.3 1036.4,1008.8" fill="#2d6a67"/><circle cx="1059.4" cy="988.0" r="1.9" fill="#fff"/><polygon points="1034.9,998.0 1063.9,980.7 1063.9,993.9 1034.9,1011.2" fill="none" stroke="#2d6a67" stroke-width="0.8"/><polygon points="1034.9,1011.2 1063.9,993.9 1063.9,1007.1 1034.9,1024.4" fill="url(#xh)"/><polygon points="1034.9,1011.2 1063.9,993.9 1063.9,1007.1 1034.9,1024.4" fill="none" stroke="#2d6a67" stroke-width="0.8"/><polygon points="1034.9,1024.4 1063.9,1007.1 1063.9,1020.3 1034.9,1037.6" fill="#fff"/><polygon points="1036.4,1025.2 1062.4,1009.7 1062.4,1019.7 1036.4,1035.2" fill="#2d6a67"/><circle cx="1059.4" cy="1014.4" r="1.9" fill="#fff"/><polygon points="1034.9,1024.4 1063.9,1007.1 1063.9,1020.3 1034.9,1037.6" fill="none" stroke="#2d6a67" stroke-width="0.8"/><polygon points="1034.9,1037.6 1063.9,1020.3 1063.9,1033.5 1034.9,1050.8" fill="url(#vh)"/><polygon points="1034.9,1037.6 1063.9,1020.3 1063.9,1033.5 1034.9,1050.8" fill="none" stroke="#2d6a67" stroke-width="0.8"/><polygon points="1034.9,1050.8 1063.9,1033.5 1063.9,1046.7 1034.9,1064.0" fill="#fff"/><circle cx="1040.7" cy="1054.9" r="1.45" fill="#2d6a67"/><circle cx="1045.1" cy="1052.3" r="1.45" fill="#2d6a67"/><line x1="1048.5" y1="1050.3" x2="1054.0" y2="1047.0" stroke="#2d6a67" stroke-width="1.9"/><polygon points="1034.9,1050.8 1063.9,1033.5 1063.9,1046.7 1034.9,1064.0" fill="none" stroke="#2d6a67" stroke-width="0.8"/><polyline points="1005.9,980.7 1005.9,1046.7 1034.9,1064.0 1063.9,1046.7 1063.9,980.7" fill="none" stroke="#2d6a67" stroke-width="1.1"/><polygon points="998.2,985.9 1027.2,1003.2 998.2,1020.5 969.2,1003.2" fill="#fff" stroke="#2d6a67" stroke-width="0.9"/><line x1="977.4" y1="999.4" x2="977.4" y2="1007.0" stroke="#2d6a67" stroke-width="0.85"/><line x1="982.6" y1="999.2" x2="982.6" y2="1007.2" stroke="#2d6a67" stroke-width="0.85"/><line x1="987.8" y1="994.5" x2="987.8" y2="1011.9" stroke="#2d6a67" stroke-width="0.85"/><line x1="993.0" y1="996.1" x2="993.0" y2="1010.3" stroke="#2d6a67" stroke-width="0.85"/><line x1="998.2" y1="989.7" x2="998.2" y2="1016.7" stroke="#2d6a67" stroke-width="0.85"/><line x1="1003.4" y1="996.1" x2="1003.4" y2="1010.3" stroke="#2d6a67" stroke-width="0.85"/><line x1="1008.6" y1="994.5" x2="1008.6" y2="1011.9" stroke="#2d6a67" stroke-width="0.85"/><line x1="1013.8" y1="999.2" x2="1013.8" y2="1007.2" stroke="#2d6a67" stroke-width="0.85"/><line x1="1019.0" y1="999.4" x2="1019.0" y2="1007.0" stroke="#2d6a67" stroke-width="0.85"/><polygon points="969.2,1003.2 998.2,1020.5 998.2,1033.7 969.2,1016.4" fill="#fff"/><polygon points="970.7,1005.8 996.7,1021.3 996.7,1031.3 970.7,1015.8" fill="#2d6a67"/><circle cx="973.7" cy="1010.5" r="1.9" fill="#fff"/><polygon points="969.2,1003.2 998.2,1020.5 998.2,1033.7 969.2,1016.4" fill="none" stroke="#2d6a67" stroke-width="0.8"/><polygon points="969.2,1016.4 998.2,1033.7 998.2,1046.9 969.2,1029.6" fill="url(#xh)"/><polygon points="969.2,1016.4 998.2,1033.7 998.2,1046.9 969.2,1029.6" fill="none" stroke="#2d6a67" stroke-width="0.8"/><polygon points="969.2,1029.6 998.2,1046.9 998.2,1060.1 969.2,1042.8" fill="#fff"/><polygon points="970.7,1032.2 996.7,1047.7 996.7,1057.7 970.7,1042.2" fill="#2d6a67"/><circle cx="973.7" cy="1036.9" r="1.9" fill="#fff"/><polygon points="969.2,1029.6 998.2,1046.9 998.2,1060.1 969.2,1042.8" fill="none" stroke="#2d6a67" stroke-width="0.8"/><polygon points="969.2,1042.8 998.2,1060.1 998.2,1073.3 969.2,1056.0" fill="url(#vh)"/><polygon points="969.2,1042.8 998.2,1060.1 998.2,1073.3 969.2,1056.0" fill="none" stroke="#2d6a67" stroke-width="0.8"/><polygon points="969.2,1056.0 998.2,1073.3 998.2,1086.5 969.2,1069.2" fill="#fff"/><line x1="978.8" y1="1069.3" x2="984.3" y2="1072.6" stroke="#2d6a67" stroke-width="1.9"/><circle cx="987.8" cy="1074.7" r="1.45" fill="#2d6a67"/><circle cx="992.1" cy="1077.3" r="1.45" fill="#2d6a67"/><polygon points="969.2,1056.0 998.2,1073.3 998.2,1086.5 969.2,1069.2" fill="none" stroke="#2d6a67" stroke-width="0.8"/><polygon points="998.2,1020.5 1027.2,1003.2 1027.2,1016.4 998.2,1033.7" fill="url(#xh)"/><polygon points="998.2,1020.5 1027.2,1003.2 1027.2,1016.4 998.2,1033.7" fill="none" stroke="#2d6a67" stroke-width="0.8"/><polygon points="998.2,1033.7 1027.2,1016.4 1027.2,1029.6 998.2,1046.9" fill="#fff"/><circle cx="1004.0" cy="1037.8" r="1.45" fill="#2d6a67"/><circle cx="1008.4" cy="1035.2" r="1.45" fill="#2d6a67"/><line x1="1011.8" y1="1033.2" x2="1017.3" y2="1029.9" stroke="#2d6a67" stroke-width="1.9"/><polygon points="998.2,1033.7 1027.2,1016.4 1027.2,1029.6 998.2,1046.9" fill="none" stroke="#2d6a67" stroke-width="0.8"/><polygon points="998.2,1046.9 1027.2,1029.6 1027.2,1042.8 998.2,1060.1" fill="url(#xh)"/><polygon points="998.2,1046.9 1027.2,1029.6 1027.2,1042.8 998.2,1060.1" fill="none" stroke="#2d6a67" stroke-width="0.8"/><polygon points="998.2,1060.1 1027.2,1042.8 1027.2,1056.0 998.2,1073.3" fill="#fff"/><circle cx="1004.0" cy="1064.2" r="1.45" fill="#2d6a67"/><circle cx="1008.4" cy="1061.6" r="1.45" fill="#2d6a67"/><line x1="1011.8" y1="1059.6" x2="1017.3" y2="1056.3" stroke="#2d6a67" stroke-width="1.9"/><polygon points="998.2,1060.1 1027.2,1042.8 1027.2,1056.0 998.2,1073.3" fill="none" stroke="#2d6a67" stroke-width="0.8"/><polygon points="998.2,1073.3 1027.2,1056.0 1027.2,1069.2 998.2,1086.5" fill="url(#xh)"/><polygon points="998.2,1073.3 1027.2,1056.0 1027.2,1069.2 998.2,1086.5" fill="none" stroke="#2d6a67" stroke-width="0.8"/><polyline points="969.2,1003.2 969.2,1069.2 998.2,1086.5 1027.2,1069.2 1027.2,1003.2" fill="none" stroke="#2d6a67" stroke-width="1.1"/><polygon points="1071.0,985.0 1100.0,1002.3 1071.0,1019.6 1042.0,1002.3" fill="#fff" stroke="#2d6a67" stroke-width="0.9"/><line x1="1050.2" y1="998.5" x2="1050.2" y2="1006.1" stroke="#2d6a67" stroke-width="0.85"/><line x1="1055.4" y1="998.3" x2="1055.4" y2="1006.3" stroke="#2d6a67" stroke-width="0.85"/><line x1="1060.6" y1="993.6" x2="1060.6" y2="1011.0" stroke="#2d6a67" stroke-width="0.85"/><line x1="1065.8" y1="995.2" x2="1065.8" y2="1009.4" stroke="#2d6a67" stroke-width="0.85"/><line x1="1071.0" y1="988.8" x2="1071.0" y2="1015.8" stroke="#2d6a67" stroke-width="0.85"/><line x1="1076.2" y1="995.2" x2="1076.2" y2="1009.4" stroke="#2d6a67" stroke-width="0.85"/><line x1="1081.4" y1="993.6" x2="1081.4" y2="1011.0" stroke="#2d6a67" stroke-width="0.85"/><line x1="1086.6" y1="998.3" x2="1086.6" y2="1006.3" stroke="#2d6a67" stroke-width="0.85"/><line x1="1091.8" y1="998.5" x2="1091.8" y2="1006.1" stroke="#2d6a67" stroke-width="0.85"/><polygon points="1042.0,1002.3 1071.0,1019.6 1071.0,1032.8 1042.0,1015.5" fill="url(#xh)"/><polygon points="1042.0,1002.3 1071.0,1019.6 1071.0,1032.8 1042.0,1015.5" fill="none" stroke="#2d6a67" stroke-width="0.8"/><polygon points="1042.0,1015.5 1071.0,1032.8 1071.0,1046.0 1042.0,1028.7" fill="#fff"/><line x1="1051.6" y1="1028.8" x2="1057.1" y2="1032.1" stroke="#2d6a67" stroke-width="1.9"/><circle cx="1060.6" cy="1034.2" r="1.45" fill="#2d6a67"/><circle cx="1064.9" cy="1036.8" r="1.45" fill="#2d6a67"/><polygon points="1042.0,1015.5 1071.0,1032.8 1071.0,1046.0 1042.0,1028.7" fill="none" stroke="#2d6a67" stroke-width="0.8"/><polygon points="1042.0,1028.7 1071.0,1046.0 1071.0,1059.2 1042.0,1041.9" fill="url(#xh)"/><polygon points="1042.0,1028.7 1071.0,1046.0 1071.0,1059.2 1042.0,1041.9" fill="none" stroke="#2d6a67" stroke-width="0.8"/><polygon points="1042.0,1041.9 1071.0,1059.2 1071.0,1072.4 1042.0,1055.1" fill="#fff"/><line x1="1051.6" y1="1055.2" x2="1057.1" y2="1058.5" stroke="#2d6a67" stroke-width="1.9"/><circle cx="1060.6" cy="1060.6" r="1.45" fill="#2d6a67"/><circle cx="1064.9" cy="1063.2" r="1.45" fill="#2d6a67"/><polygon points="1042.0,1041.9 1071.0,1059.2 1071.0,1072.4 1042.0,1055.1" fill="none" stroke="#2d6a67" stroke-width="0.8"/><polygon points="1042.0,1055.1 1071.0,1072.4 1071.0,1085.6 1042.0,1068.3" fill="url(#xh)"/><polygon points="1042.0,1055.1 1071.0,1072.4 1071.0,1085.6 1042.0,1068.3" fill="none" stroke="#2d6a67" stroke-width="0.8"/><polygon points="1071.0,1019.6 1100.0,1002.3 1100.0,1015.5 1071.0,1032.8" fill="#fff"/><polygon points="1072.5,1020.4 1098.5,1004.9 1098.5,1014.9 1072.5,1030.4" fill="#2d6a67"/><circle cx="1095.5" cy="1009.6" r="1.9" fill="#fff"/><polygon points="1071.0,1019.6 1100.0,1002.3 1100.0,1015.5 1071.0,1032.8" fill="none" stroke="#2d6a67" stroke-width="0.8"/><polygon points="1071.0,1032.8 1100.0,1015.5 1100.0,1028.7 1071.0,1046.0" fill="url(#xh)"/><polygon points="1071.0,1032.8 1100.0,1015.5 1100.0,1028.7 1071.0,1046.0" fill="none" stroke="#2d6a67" stroke-width="0.8"/><polygon points="1071.0,1046.0 1100.0,1028.7 1100.0,1041.9 1071.0,1059.2" fill="#fff"/><polygon points="1072.5,1046.8 1098.5,1031.3 1098.5,1041.3 1072.5,1056.8" fill="#2d6a67"/><circle cx="1095.5" cy="1036.0" r="1.9" fill="#fff"/><polygon points="1071.0,1046.0 1100.0,1028.7 1100.0,1041.9 1071.0,1059.2" fill="none" stroke="#2d6a67" stroke-width="0.8"/><polygon points="1071.0,1059.2 1100.0,1041.9 1100.0,1055.1 1071.0,1072.4" fill="url(#vh)"/><polygon points="1071.0,1059.2 1100.0,1041.9 1100.0,1055.1 1071.0,1072.4" fill="none" stroke="#2d6a67" stroke-width="0.8"/><polygon points="1071.0,1072.4 1100.0,1055.1 1100.0,1068.3 1071.0,1085.6" fill="#fff"/><circle cx="1076.8" cy="1076.5" r="1.45" fill="#2d6a67"/><circle cx="1081.2" cy="1073.9" r="1.45" fill="#2d6a67"/><line x1="1084.6" y1="1071.9" x2="1090.1" y2="1068.6" stroke="#2d6a67" stroke-width="1.9"/><polygon points="1071.0,1072.4 1100.0,1055.1 1100.0,1068.3 1071.0,1085.6" fill="none" stroke="#2d6a67" stroke-width="0.8"/><polyline points="1042.0,1002.3 1042.0,1068.3 1071.0,1085.6 1100.0,1068.3 1100.0,1002.3" fill="none" stroke="#2d6a67" stroke-width="1.1"/><polygon points="1034.9,1009.4 1063.9,1026.7 1034.9,1044.0 1005.9,1026.7" fill="#fff" stroke="#2d6a67" stroke-width="0.9"/><line x1="1014.1" y1="1022.9" x2="1014.1" y2="1030.5" stroke="#2d6a67" stroke-width="0.85"/><line x1="1019.3" y1="1022.7" x2="1019.3" y2="1030.7" stroke="#2d6a67" stroke-width="0.85"/><line x1="1024.5" y1="1018.0" x2="1024.5" y2="1035.4" stroke="#2d6a67" stroke-width="0.85"/><line x1="1029.7" y1="1019.6" x2="1029.7" y2="1033.8" stroke="#2d6a67" stroke-width="0.85"/><line x1="1034.9" y1="1013.2" x2="1034.9" y2="1040.2" stroke="#2d6a67" stroke-width="0.85"/><line x1="1040.1" y1="1019.6" x2="1040.1" y2="1033.8" stroke="#2d6a67" stroke-width="0.85"/><line x1="1045.3" y1="1018.0" x2="1045.3" y2="1035.4" stroke="#2d6a67" stroke-width="0.85"/><line x1="1050.5" y1="1022.7" x2="1050.5" y2="1030.7" stroke="#2d6a67" stroke-width="0.85"/><line x1="1055.7" y1="1022.9" x2="1055.7" y2="1030.5" stroke="#2d6a67" stroke-width="0.85"/><polygon points="1005.9,1026.7 1034.9,1044.0 1034.9,1057.2 1005.9,1039.9" fill="#fff"/><polygon points="1007.4,1029.3 1033.4,1044.8 1033.4,1054.8 1007.4,1039.3" fill="#2d6a67"/><circle cx="1010.4" cy="1034.0" r="1.9" fill="#fff"/><polygon points="1005.9,1026.7 1034.9,1044.0 1034.9,1057.2 1005.9,1039.9" fill="none" stroke="#2d6a67" stroke-width="0.8"/><polygon points="1005.9,1039.9 1034.9,1057.2 1034.9,1070.4 1005.9,1053.1" fill="url(#xh)"/><polygon points="1005.9,1039.9 1034.9,1057.2 1034.9,1070.4 1005.9,1053.1" fill="none" stroke="#2d6a67" stroke-width="0.8"/><polygon points="1005.9,1053.1 1034.9,1070.4 1034.9,1083.6 1005.9,1066.3" fill="#fff"/><polygon points="1007.4,1055.7 1033.4,1071.2 1033.4,1081.2 1007.4,1065.7" fill="#2d6a67"/><circle cx="1010.4" cy="1060.4" r="1.9" fill="#fff"/><polygon points="1005.9,1053.1 1034.9,1070.4 1034.9,1083.6 1005.9,1066.3" fill="none" stroke="#2d6a67" stroke-width="0.8"/><polygon points="1005.9,1066.3 1034.9,1083.6 1034.9,1096.8 1005.9,1079.5" fill="url(#vh)"/><polygon points="1005.9,1066.3 1034.9,1083.6 1034.9,1096.8 1005.9,1079.5" fill="none" stroke="#2d6a67" stroke-width="0.8"/><polygon points="1005.9,1079.5 1034.9,1096.8 1034.9,1110.0 1005.9,1092.7" fill="#fff"/><line x1="1015.5" y1="1092.8" x2="1021.0" y2="1096.1" stroke="#2d6a67" stroke-width="1.9"/><circle cx="1024.5" cy="1098.2" r="1.45" fill="#2d6a67"/><circle cx="1028.8" cy="1100.8" r="1.45" fill="#2d6a67"/><polygon points="1005.9,1079.5 1034.9,1096.8 1034.9,1110.0 1005.9,1092.7" fill="none" stroke="#2d6a67" stroke-width="0.8"/><polygon points="1034.9,1044.0 1063.9,1026.7 1063.9,1039.9 1034.9,1057.2" fill="url(#xh)"/><polygon points="1034.9,1044.0 1063.9,1026.7 1063.9,1039.9 1034.9,1057.2" fill="none" stroke="#2d6a67" stroke-width="0.8"/><polygon points="1034.9,1057.2 1063.9,1039.9 1063.9,1053.1 1034.9,1070.4" fill="#fff"/><circle cx="1040.7" cy="1061.3" r="1.45" fill="#2d6a67"/><circle cx="1045.1" cy="1058.7" r="1.45" fill="#2d6a67"/><line x1="1048.5" y1="1056.7" x2="1054.0" y2="1053.4" stroke="#2d6a67" stroke-width="1.9"/><polygon points="1034.9,1057.2 1063.9,1039.9 1063.9,1053.1 1034.9,1070.4" fill="none" stroke="#2d6a67" stroke-width="0.8"/><polygon points="1034.9,1070.4 1063.9,1053.1 1063.9,1066.3 1034.9,1083.6" fill="url(#xh)"/><polygon points="1034.9,1070.4 1063.9,1053.1 1063.9,1066.3 1034.9,1083.6" fill="none" stroke="#2d6a67" stroke-width="0.8"/><polygon points="1034.9,1083.6 1063.9,1066.3 1063.9,1079.5 1034.9,1096.8" fill="#fff"/><circle cx="1040.7" cy="1087.7" r="1.45" fill="#2d6a67"/><circle cx="1045.1" cy="1085.1" r="1.45" fill="#2d6a67"/><line x1="1048.5" y1="1083.1" x2="1054.0" y2="1079.8" stroke="#2d6a67" stroke-width="1.9"/><polygon points="1034.9,1083.6 1063.9,1066.3 1063.9,1079.5 1034.9,1096.8" fill="none" stroke="#2d6a67" stroke-width="0.8"/><polygon points="1034.9,1096.8 1063.9,1079.5 1063.9,1092.7 1034.9,1110.0" fill="url(#xh)"/><polygon points="1034.9,1096.8 1063.9,1079.5 1063.9,1092.7 1034.9,1110.0" fill="none" stroke="#2d6a67" stroke-width="0.8"/><polyline points="1005.9,1026.7 1005.9,1092.7 1034.9,1110.0 1063.9,1092.7 1063.9,1026.7" fill="none" stroke="#2d6a67" stroke-width="1.1"/><polygon points="969.3,1171.4 1042.6,1214.4 1042.6,1286.8 969.3,1329.8 896.0,1286.8 896.0,1214.4" fill="#e2eded" stroke="#231f20" stroke-width="4.2"/><polygon points="968.5,1179.3 997.5,1196.6 968.5,1213.9 939.5,1196.6" fill="#fff" stroke="#8db4b2" stroke-width="0.9"/><line x1="947.7" y1="1192.8" x2="947.7" y2="1200.4" stroke="#8db4b2" stroke-width="0.85"/><line x1="952.9" y1="1192.6" x2="952.9" y2="1200.6" stroke="#8db4b2" stroke-width="0.85"/><line x1="958.1" y1="1187.9" x2="958.1" y2="1205.3" stroke="#8db4b2" stroke-width="0.85"/><line x1="963.3" y1="1189.5" x2="963.3" y2="1203.7" stroke="#8db4b2" stroke-width="0.85"/><line x1="968.5" y1="1183.1" x2="968.5" y2="1210.1" stroke="#8db4b2" stroke-width="0.85"/><line x1="973.7" y1="1189.5" x2="973.7" y2="1203.7" stroke="#8db4b2" stroke-width="0.85"/><line x1="978.9" y1="1187.9" x2="978.9" y2="1205.3" stroke="#8db4b2" stroke-width="0.85"/><line x1="984.1" y1="1192.6" x2="984.1" y2="1200.6" stroke="#8db4b2" stroke-width="0.85"/><line x1="989.3" y1="1192.8" x2="989.3" y2="1200.4" stroke="#8db4b2" stroke-width="0.85"/><polygon points="939.5,1196.6 968.5,1213.9 968.5,1227.1 939.5,1209.8" fill="#fff"/><polygon points="941.0,1199.2 967.0,1214.7 967.0,1224.7 941.0,1209.2" fill="#8db4b2"/><circle cx="944.0" cy="1203.9" r="1.9" fill="#fff"/><polygon points="939.5,1196.6 968.5,1213.9 968.5,1227.1 939.5,1209.8" fill="none" stroke="#8db4b2" stroke-width="0.8"/><polygon points="939.5,1209.8 968.5,1227.1 968.5,1240.3 939.5,1223.0" fill="url(#xhf)"/><polygon points="939.5,1209.8 968.5,1227.1 968.5,1240.3 939.5,1223.0" fill="none" stroke="#8db4b2" stroke-width="0.8"/><polygon points="939.5,1223.0 968.5,1240.3 968.5,1253.5 939.5,1236.2" fill="#fff"/><polygon points="941.0,1225.6 967.0,1241.1 967.0,1251.1 941.0,1235.6" fill="#8db4b2"/><circle cx="944.0" cy="1230.3" r="1.9" fill="#fff"/><polygon points="939.5,1223.0 968.5,1240.3 968.5,1253.5 939.5,1236.2" fill="none" stroke="#8db4b2" stroke-width="0.8"/><polygon points="939.5,1236.2 968.5,1253.5 968.5,1266.7 939.5,1249.4" fill="url(#xhf)"/><polygon points="939.5,1236.2 968.5,1253.5 968.5,1266.7 939.5,1249.4" fill="none" stroke="#8db4b2" stroke-width="0.8"/><polygon points="939.5,1249.4 968.5,1266.7 968.5,1279.9 939.5,1262.6" fill="#fff"/><line x1="949.1" y1="1262.7" x2="954.6" y2="1266.0" stroke="#8db4b2" stroke-width="1.9"/><circle cx="958.1" cy="1268.1" r="1.45" fill="#8db4b2"/><circle cx="962.4" cy="1270.7" r="1.45" fill="#8db4b2"/><polygon points="939.5,1249.4 968.5,1266.7 968.5,1279.9 939.5,1262.6" fill="none" stroke="#8db4b2" stroke-width="0.8"/><polygon points="968.5,1213.9 997.5,1196.6 997.5,1209.8 968.5,1227.1" fill="#fff"/><polygon points="970.0,1214.7 996.0,1199.2 996.0,1209.2 970.0,1224.7" fill="#8db4b2"/><circle cx="993.0" cy="1203.9" r="1.9" fill="#fff"/><polygon points="968.5,1213.9 997.5,1196.6 997.5,1209.8 968.5,1227.1" fill="none" stroke="#8db4b2" stroke-width="0.8"/><polygon points="968.5,1227.1 997.5,1209.8 997.5,1223.0 968.5,1240.3" fill="url(#xhf)"/><polygon points="968.5,1227.1 997.5,1209.8 997.5,1223.0 968.5,1240.3" fill="none" stroke="#8db4b2" stroke-width="0.8"/><polygon points="968.5,1240.3 997.5,1223.0 997.5,1236.2 968.5,1253.5" fill="#fff"/><polygon points="970.0,1241.1 996.0,1225.6 996.0,1235.6 970.0,1251.1" fill="#8db4b2"/><circle cx="993.0" cy="1230.3" r="1.9" fill="#fff"/><polygon points="968.5,1240.3 997.5,1223.0 997.5,1236.2 968.5,1253.5" fill="none" stroke="#8db4b2" stroke-width="0.8"/><polygon points="968.5,1253.5 997.5,1236.2 997.5,1249.4 968.5,1266.7" fill="url(#vhf)"/><polygon points="968.5,1253.5 997.5,1236.2 997.5,1249.4 968.5,1266.7" fill="none" stroke="#8db4b2" stroke-width="0.8"/><polygon points="968.5,1266.7 997.5,1249.4 997.5,1262.6 968.5,1279.9" fill="#fff"/><circle cx="974.3" cy="1270.8" r="1.45" fill="#8db4b2"/><circle cx="978.6" cy="1268.2" r="1.45" fill="#8db4b2"/><line x1="982.1" y1="1266.2" x2="987.6" y2="1262.9" stroke="#8db4b2" stroke-width="1.9"/><polygon points="968.5,1266.7 997.5,1249.4 997.5,1262.6 968.5,1279.9" fill="none" stroke="#8db4b2" stroke-width="0.8"/><polyline points="939.5,1196.6 939.5,1262.6 968.5,1279.9 997.5,1262.6 997.5,1196.6" fill="none" stroke="#8db4b2" stroke-width="1.1"/><polygon points="931.8,1201.8 960.8,1219.1 931.8,1236.4 902.8,1219.1" fill="#fff" stroke="#8db4b2" stroke-width="0.9"/><line x1="911.0" y1="1215.3" x2="911.0" y2="1222.9" stroke="#8db4b2" stroke-width="0.85"/><line x1="916.2" y1="1215.1" x2="916.2" y2="1223.1" stroke="#8db4b2" stroke-width="0.85"/><line x1="921.4" y1="1210.4" x2="921.4" y2="1227.8" stroke="#8db4b2" stroke-width="0.85"/><line x1="926.6" y1="1212.0" x2="926.6" y2="1226.2" stroke="#8db4b2" stroke-width="0.85"/><line x1="931.8" y1="1205.6" x2="931.8" y2="1232.6" stroke="#8db4b2" stroke-width="0.85"/><line x1="937.0" y1="1212.0" x2="937.0" y2="1226.2" stroke="#8db4b2" stroke-width="0.85"/><line x1="942.2" y1="1210.4" x2="942.2" y2="1227.8" stroke="#8db4b2" stroke-width="0.85"/><line x1="947.4" y1="1215.1" x2="947.4" y2="1223.1" stroke="#8db4b2" stroke-width="0.85"/><line x1="952.6" y1="1215.3" x2="952.6" y2="1222.9" stroke="#8db4b2" stroke-width="0.85"/><polygon points="902.8,1219.1 931.8,1236.4 931.8,1249.6 902.8,1232.3" fill="#fff"/><polygon points="904.3,1221.7 930.3,1237.2 930.3,1247.2 904.3,1231.7" fill="#8db4b2"/><circle cx="907.3" cy="1226.4" r="1.9" fill="#fff"/><polygon points="902.8,1219.1 931.8,1236.4 931.8,1249.6 902.8,1232.3" fill="none" stroke="#8db4b2" stroke-width="0.8"/><polygon points="902.8,1232.3 931.8,1249.6 931.8,1262.8 902.8,1245.5" fill="url(#xhf)"/><polygon points="902.8,1232.3 931.8,1249.6 931.8,1262.8 902.8,1245.5" fill="none" stroke="#8db4b2" stroke-width="0.8"/><polygon points="902.8,1245.5 931.8,1262.8 931.8,1276.0 902.8,1258.7" fill="#fff"/><polygon points="904.3,1248.1 930.3,1263.6 930.3,1273.6 904.3,1258.1" fill="#8db4b2"/><circle cx="907.3" cy="1252.8" r="1.9" fill="#fff"/><polygon points="902.8,1245.5 931.8,1262.8 931.8,1276.0 902.8,1258.7" fill="none" stroke="#8db4b2" stroke-width="0.8"/><polygon points="902.8,1258.7 931.8,1276.0 931.8,1289.2 902.8,1271.9" fill="url(#vhf)"/><polygon points="902.8,1258.7 931.8,1276.0 931.8,1289.2 902.8,1271.9" fill="none" stroke="#8db4b2" stroke-width="0.8"/><polygon points="902.8,1271.9 931.8,1289.2 931.8,1302.4 902.8,1285.1" fill="#fff"/><line x1="912.4" y1="1285.2" x2="917.9" y2="1288.5" stroke="#8db4b2" stroke-width="1.9"/><circle cx="921.4" cy="1290.6" r="1.45" fill="#8db4b2"/><circle cx="925.7" cy="1293.2" r="1.45" fill="#8db4b2"/><polygon points="902.8,1271.9 931.8,1289.2 931.8,1302.4 902.8,1285.1" fill="none" stroke="#8db4b2" stroke-width="0.8"/><polygon points="931.8,1236.4 960.8,1219.1 960.8,1232.3 931.8,1249.6" fill="url(#xhf)"/><polygon points="931.8,1236.4 960.8,1219.1 960.8,1232.3 931.8,1249.6" fill="none" stroke="#8db4b2" stroke-width="0.8"/><polygon points="931.8,1249.6 960.8,1232.3 960.8,1245.5 931.8,1262.8" fill="#fff"/><circle cx="937.6" cy="1253.7" r="1.45" fill="#8db4b2"/><circle cx="941.9" cy="1251.1" r="1.45" fill="#8db4b2"/><line x1="945.4" y1="1249.1" x2="950.9" y2="1245.8" stroke="#8db4b2" stroke-width="1.9"/><polygon points="931.8,1249.6 960.8,1232.3 960.8,1245.5 931.8,1262.8" fill="none" stroke="#8db4b2" stroke-width="0.8"/><polygon points="931.8,1262.8 960.8,1245.5 960.8,1258.7 931.8,1276.0" fill="url(#xhf)"/><polygon points="931.8,1262.8 960.8,1245.5 960.8,1258.7 931.8,1276.0" fill="none" stroke="#8db4b2" stroke-width="0.8"/><polygon points="931.8,1276.0 960.8,1258.7 960.8,1271.9 931.8,1289.2" fill="#fff"/><circle cx="937.6" cy="1280.1" r="1.45" fill="#8db4b2"/><circle cx="941.9" cy="1277.5" r="1.45" fill="#8db4b2"/><line x1="945.4" y1="1275.5" x2="950.9" y2="1272.2" stroke="#8db4b2" stroke-width="1.9"/><polygon points="931.8,1276.0 960.8,1258.7 960.8,1271.9 931.8,1289.2" fill="none" stroke="#8db4b2" stroke-width="0.8"/><polygon points="931.8,1289.2 960.8,1271.9 960.8,1285.1 931.8,1302.4" fill="url(#xhf)"/><polygon points="931.8,1289.2 960.8,1271.9 960.8,1285.1 931.8,1302.4" fill="none" stroke="#8db4b2" stroke-width="0.8"/><polyline points="902.8,1219.1 902.8,1285.1 931.8,1302.4 960.8,1285.1 960.8,1219.1" fill="none" stroke="#8db4b2" stroke-width="1.1"/><polygon points="1004.6,1200.9 1033.6,1218.2 1004.6,1235.5 975.6,1218.2" fill="#fff" stroke="#8db4b2" stroke-width="0.9"/><line x1="983.8" y1="1214.4" x2="983.8" y2="1222.0" stroke="#8db4b2" stroke-width="0.85"/><line x1="989.0" y1="1214.2" x2="989.0" y2="1222.2" stroke="#8db4b2" stroke-width="0.85"/><line x1="994.2" y1="1209.5" x2="994.2" y2="1226.9" stroke="#8db4b2" stroke-width="0.85"/><line x1="999.4" y1="1211.1" x2="999.4" y2="1225.3" stroke="#8db4b2" stroke-width="0.85"/><line x1="1004.6" y1="1204.7" x2="1004.6" y2="1231.7" stroke="#8db4b2" stroke-width="0.85"/><line x1="1009.8" y1="1211.1" x2="1009.8" y2="1225.3" stroke="#8db4b2" stroke-width="0.85"/><line x1="1015.0" y1="1209.5" x2="1015.0" y2="1226.9" stroke="#8db4b2" stroke-width="0.85"/><line x1="1020.2" y1="1214.2" x2="1020.2" y2="1222.2" stroke="#8db4b2" stroke-width="0.85"/><line x1="1025.4" y1="1214.4" x2="1025.4" y2="1222.0" stroke="#8db4b2" stroke-width="0.85"/><polygon points="975.6,1218.2 1004.6,1235.5 1004.6,1248.7 975.6,1231.4" fill="url(#xhf)"/><polygon points="975.6,1218.2 1004.6,1235.5 1004.6,1248.7 975.6,1231.4" fill="none" stroke="#8db4b2" stroke-width="0.8"/><polygon points="975.6,1231.4 1004.6,1248.7 1004.6,1261.9 975.6,1244.6" fill="#fff"/><line x1="985.2" y1="1244.7" x2="990.7" y2="1248.0" stroke="#8db4b2" stroke-width="1.9"/><circle cx="994.2" cy="1250.1" r="1.45" fill="#8db4b2"/><circle cx="998.5" cy="1252.7" r="1.45" fill="#8db4b2"/><polygon points="975.6,1231.4 1004.6,1248.7 1004.6,1261.9 975.6,1244.6" fill="none" stroke="#8db4b2" stroke-width="0.8"/><polygon points="975.6,1244.6 1004.6,1261.9 1004.6,1275.1 975.6,1257.8" fill="url(#xhf)"/><polygon points="975.6,1244.6 1004.6,1261.9 1004.6,1275.1 975.6,1257.8" fill="none" stroke="#8db4b2" stroke-width="0.8"/><polygon points="975.6,1257.8 1004.6,1275.1 1004.6,1288.3 975.6,1271.0" fill="#fff"/><line x1="985.2" y1="1271.1" x2="990.7" y2="1274.4" stroke="#8db4b2" stroke-width="1.9"/><circle cx="994.2" cy="1276.5" r="1.45" fill="#8db4b2"/><circle cx="998.5" cy="1279.1" r="1.45" fill="#8db4b2"/><polygon points="975.6,1257.8 1004.6,1275.1 1004.6,1288.3 975.6,1271.0" fill="none" stroke="#8db4b2" stroke-width="0.8"/><polygon points="975.6,1271.0 1004.6,1288.3 1004.6,1301.5 975.6,1284.2" fill="url(#xhf)"/><polygon points="975.6,1271.0 1004.6,1288.3 1004.6,1301.5 975.6,1284.2" fill="none" stroke="#8db4b2" stroke-width="0.8"/><polygon points="1004.6,1235.5 1033.6,1218.2 1033.6,1231.4 1004.6,1248.7" fill="#fff"/><polygon points="1006.1,1236.3 1032.1,1220.8 1032.1,1230.8 1006.1,1246.3" fill="#8db4b2"/><circle cx="1029.1" cy="1225.5" r="1.9" fill="#fff"/><polygon points="1004.6,1235.5 1033.6,1218.2 1033.6,1231.4 1004.6,1248.7" fill="none" stroke="#8db4b2" stroke-width="0.8"/><polygon points="1004.6,1248.7 1033.6,1231.4 1033.6,1244.6 1004.6,1261.9" fill="url(#xhf)"/><polygon points="1004.6,1248.7 1033.6,1231.4 1033.6,1244.6 1004.6,1261.9" fill="none" stroke="#8db4b2" stroke-width="0.8"/><polygon points="1004.6,1261.9 1033.6,1244.6 1033.6,1257.8 1004.6,1275.1" fill="#fff"/><polygon points="1006.1,1262.7 1032.1,1247.2 1032.1,1257.2 1006.1,1272.7" fill="#8db4b2"/><circle cx="1029.1" cy="1251.9" r="1.9" fill="#fff"/><polygon points="1004.6,1261.9 1033.6,1244.6 1033.6,1257.8 1004.6,1275.1" fill="none" stroke="#8db4b2" stroke-width="0.8"/><polygon points="1004.6,1275.1 1033.6,1257.8 1033.6,1271.0 1004.6,1288.3" fill="url(#vhf)"/><polygon points="1004.6,1275.1 1033.6,1257.8 1033.6,1271.0 1004.6,1288.3" fill="none" stroke="#8db4b2" stroke-width="0.8"/><polygon points="1004.6,1288.3 1033.6,1271.0 1033.6,1284.2 1004.6,1301.5" fill="#fff"/><circle cx="1010.4" cy="1292.4" r="1.45" fill="#8db4b2"/><circle cx="1014.7" cy="1289.8" r="1.45" fill="#8db4b2"/><line x1="1018.2" y1="1287.8" x2="1023.7" y2="1284.5" stroke="#8db4b2" stroke-width="1.9"/><polygon points="1004.6,1288.3 1033.6,1271.0 1033.6,1284.2 1004.6,1301.5" fill="none" stroke="#8db4b2" stroke-width="0.8"/><polyline points="975.6,1218.2 975.6,1284.2 1004.6,1301.5 1033.6,1284.2 1033.6,1218.2" fill="none" stroke="#8db4b2" stroke-width="1.1"/><polygon points="968.5,1225.3 997.5,1242.6 968.5,1259.9 939.5,1242.6" fill="#fff" stroke="#8db4b2" stroke-width="0.9"/><line x1="947.7" y1="1238.8" x2="947.7" y2="1246.4" stroke="#8db4b2" stroke-width="0.85"/><line x1="952.9" y1="1238.6" x2="952.9" y2="1246.6" stroke="#8db4b2" stroke-width="0.85"/><line x1="958.1" y1="1233.9" x2="958.1" y2="1251.3" stroke="#8db4b2" stroke-width="0.85"/><line x1="963.3" y1="1235.5" x2="963.3" y2="1249.7" stroke="#8db4b2" stroke-width="0.85"/><line x1="968.5" y1="1229.1" x2="968.5" y2="1256.1" stroke="#8db4b2" stroke-width="0.85"/><line x1="973.7" y1="1235.5" x2="973.7" y2="1249.7" stroke="#8db4b2" stroke-width="0.85"/><line x1="978.9" y1="1233.9" x2="978.9" y2="1251.3" stroke="#8db4b2" stroke-width="0.85"/><line x1="984.1" y1="1238.6" x2="984.1" y2="1246.6" stroke="#8db4b2" stroke-width="0.85"/><line x1="989.3" y1="1238.8" x2="989.3" y2="1246.4" stroke="#8db4b2" stroke-width="0.85"/><polygon points="939.5,1242.6 968.5,1259.9 968.5,1273.1 939.5,1255.8" fill="#fff"/><polygon points="941.0,1245.2 967.0,1260.7 967.0,1270.7 941.0,1255.2" fill="#8db4b2"/><circle cx="944.0" cy="1249.9" r="1.9" fill="#fff"/><polygon points="939.5,1242.6 968.5,1259.9 968.5,1273.1 939.5,1255.8" fill="none" stroke="#8db4b2" stroke-width="0.8"/><polygon points="939.5,1255.8 968.5,1273.1 968.5,1286.3 939.5,1269.0" fill="url(#xhf)"/><polygon points="939.5,1255.8 968.5,1273.1 968.5,1286.3 939.5,1269.0" fill="none" stroke="#8db4b2" stroke-width="0.8"/><polygon points="939.5,1269.0 968.5,1286.3 968.5,1299.5 939.5,1282.2" fill="#fff"/><polygon points="941.0,1271.6 967.0,1287.1 967.0,1297.1 941.0,1281.6" fill="#8db4b2"/><circle cx="944.0" cy="1276.3" r="1.9" fill="#fff"/><polygon points="939.5,1269.0 968.5,1286.3 968.5,1299.5 939.5,1282.2" fill="none" stroke="#8db4b2" stroke-width="0.8"/><polygon points="939.5,1282.2 968.5,1299.5 968.5,1312.7 939.5,1295.4" fill="url(#vhf)"/><polygon points="939.5,1282.2 968.5,1299.5 968.5,1312.7 939.5,1295.4" fill="none" stroke="#8db4b2" stroke-width="0.8"/><polygon points="939.5,1295.4 968.5,1312.7 968.5,1325.9 939.5,1308.6" fill="#fff"/><line x1="949.1" y1="1308.7" x2="954.6" y2="1312.0" stroke="#8db4b2" stroke-width="1.9"/><circle cx="958.1" cy="1314.1" r="1.45" fill="#8db4b2"/><circle cx="962.4" cy="1316.7" r="1.45" fill="#8db4b2"/><polygon points="939.5,1295.4 968.5,1312.7 968.5,1325.9 939.5,1308.6" fill="none" stroke="#8db4b2" stroke-width="0.8"/><polygon points="968.5,1259.9 997.5,1242.6 997.5,1255.8 968.5,1273.1" fill="url(#xhf)"/><polygon points="968.5,1259.9 997.5,1242.6 997.5,1255.8 968.5,1273.1" fill="none" stroke="#8db4b2" stroke-width="0.8"/><polygon points="968.5,1273.1 997.5,1255.8 997.5,1269.0 968.5,1286.3" fill="#fff"/><circle cx="974.3" cy="1277.2" r="1.45" fill="#8db4b2"/><circle cx="978.6" cy="1274.6" r="1.45" fill="#8db4b2"/><line x1="982.1" y1="1272.6" x2="987.6" y2="1269.3" stroke="#8db4b2" stroke-width="1.9"/><polygon points="968.5,1273.1 997.5,1255.8 997.5,1269.0 968.5,1286.3" fill="none" stroke="#8db4b2" stroke-width="0.8"/><polygon points="968.5,1286.3 997.5,1269.0 997.5,1282.2 968.5,1299.5" fill="url(#xhf)"/><polygon points="968.5,1286.3 997.5,1269.0 997.5,1282.2 968.5,1299.5" fill="none" stroke="#8db4b2" stroke-width="0.8"/><polygon points="968.5,1299.5 997.5,1282.2 997.5,1295.4 968.5,1312.7" fill="#fff"/><circle cx="974.3" cy="1303.6" r="1.45" fill="#8db4b2"/><circle cx="978.6" cy="1301.0" r="1.45" fill="#8db4b2"/><line x1="982.1" y1="1299.0" x2="987.6" y2="1295.7" stroke="#8db4b2" stroke-width="1.9"/><polygon points="968.5,1299.5 997.5,1282.2 997.5,1295.4 968.5,1312.7" fill="none" stroke="#8db4b2" stroke-width="0.8"/><polygon points="968.5,1312.7 997.5,1295.4 997.5,1308.6 968.5,1325.9" fill="url(#xhf)"/><polygon points="968.5,1312.7 997.5,1295.4 997.5,1308.6 968.5,1325.9" fill="none" stroke="#8db4b2" stroke-width="0.8"/><polyline points="939.5,1242.6 939.5,1308.6 968.5,1325.9 997.5,1308.6 997.5,1242.6" fill="none" stroke="#8db4b2" stroke-width="1.1"/><polygon points="895.6,1166.8 968.4,1209.4 968.4,1251.0 895.6,1208.2" fill="#dce9e9" stroke="#231f20" stroke-width="2.6" stroke-linejoin="miter"/><g transform="translate(905,1202.3) matrix(1,0.565,0,1,0,0) scale(0.66,1)"><text x="0" y="0" font-family="Liberation Sans" font-weight="bold" font-size="25.5" fill="#231f20">ACME</text></g><path d="M72,79 L84,79 C84,88 86,93 91,97 C80,95 73,88 72,79 Z" fill="#19a5aa"/><rect x="61.3" y="30.3" width="34.3" height="37" fill="#fff"/><line x1="68.2" y1="30.3" x2="68.2" y2="67" stroke="#a9dcdd" stroke-width="1.6"/><line x1="51" y1="51" x2="104" y2="51" stroke="#a9dcdd" stroke-width="1.6"/><line x1="61.3" y1="30.3" x2="61.3" y2="67" stroke="#3cb0b3" stroke-width="0.75"/><line x1="68.2" y1="30.3" x2="68.2" y2="67" stroke="#3cb0b3" stroke-width="0.75"/><line x1="75.0" y1="30.3" x2="75.0" y2="67" stroke="#3cb0b3" stroke-width="0.75"/><line x1="81.9" y1="30.3" x2="81.9" y2="67" stroke="#3cb0b3" stroke-width="0.75"/><line x1="88.7" y1="30.3" x2="88.7" y2="67" stroke="#3cb0b3" stroke-width="0.75"/><line x1="95.6" y1="30.3" x2="95.6" y2="67" stroke="#3cb0b3" stroke-width="0.75"/><line x1="61.3" y1="30.3" x2="95.6" y2="30.3" stroke="#3cb0b3" stroke-width="0.75"/><line x1="61.3" y1="37.2" x2="95.6" y2="37.2" stroke="#3cb0b3" stroke-width="0.75"/><line x1="61.3" y1="44.1" x2="95.6" y2="44.1" stroke="#3cb0b3" stroke-width="0.75"/><line x1="61.3" y1="51.0" x2="95.6" y2="51.0" stroke="#3cb0b3" stroke-width="0.75"/><line x1="61.3" y1="57.9" x2="95.6" y2="57.9" stroke="#3cb0b3" stroke-width="0.75"/><line x1="61.3" y1="64.8" x2="95.6" y2="64.8" stroke="#3cb0b3" stroke-width="0.75"/><polyline points="50.5,49.6 61.3,44.6" stroke="#19a5aa" stroke-width="2" fill="none"/><polyline points="95.6,44.6 104.5,49.6" stroke="#19a5aa" stroke-width="2" fill="none"/><path d="M50.5,50 L77.5,66.6 L104.5,50 L104.5,79 L50.5,79 Z" fill="#fff"/><polyline points="50.5,50.0 77.5,66.6 104.5,50.0" stroke="#19a5aa" stroke-width="0.9" fill="none"/><path d="M50.5,49.2 L50.5,79 L104.5,79 L104.5,49.2" stroke="#19a5aa" stroke-width="1.6" fill="none"/><polyline points="50.5,79.0 69.0,63.5" stroke="#19a5aa" stroke-width="0.8" fill="none"/><polyline points="104.5,79.0 86.0,63.5" stroke="#19a5aa" stroke-width="0.8" fill="none"/><path d="M113,196 L118.5,212 L119.5,222 C122,229 129,236 137,236 C142,236 142,232 138,228 L130,221 L125,200 Z" fill="#231f20"/><path d="M134,186 L140,204 L142,209 C145,216 152,222 160,222.5 C164.5,222.5 164,219 160,215 L152,208 L146,190 Z" fill="#231f20"/><line x1="127.5" y1="227.0" x2="131.5" y2="224.6" stroke="#fff" stroke-width="0.75"/><line x1="150.0" y1="213.5" x2="154.0" y2="211.1" stroke="#fff" stroke-width="0.75"/><line x1="129.2" y1="228.0" x2="133.2" y2="225.6" stroke="#fff" stroke-width="0.75"/><line x1="151.7" y1="214.5" x2="155.7" y2="212.1" stroke="#fff" stroke-width="0.75"/><line x1="130.9" y1="229.0" x2="134.9" y2="226.6" stroke="#fff" stroke-width="0.75"/><line x1="153.4" y1="215.5" x2="157.4" y2="213.1" stroke="#fff" stroke-width="0.75"/><line x1="132.6" y1="230.0" x2="136.6" y2="227.6" stroke="#fff" stroke-width="0.75"/><line x1="155.1" y1="216.5" x2="159.1" y2="214.1" stroke="#fff" stroke-width="0.75"/><path d="M88,124 C92,121.5 96,120 99,119.5 L113,117 C117,116 121,116.5 124.6,120.4 C127.5,124.5 129.5,129 131,134 C133,140 134.5,147 135.2,153 L135.4,159.5 L128,163 L120,166 L104,170 L101.5,173.5 L95,178 L92.5,173 C86,171 81.5,167 79.8,162 C79.2,152 80.5,140 83,132 C84.2,128.5 85.8,125.8 88,124 Z" fill="#231f20"/><path d="M95.8,127.6 C94,136 92.5,146 91.8,157.6 L104.8,169.6" stroke="#fff" stroke-width="0.7" fill="none"/><path d="M119.5,117.5 C122.5,124 123.5,131 121.5,139" stroke="#fff" stroke-width="0.7" fill="none"/><path d="M94.6,118 L94.4,104 C94.4,99 96.5,96.2 98,95.6 L98.6,93.6 L100,95 L101.2,93.2 L102.4,94.8 L104,93 L105,94.6 C110,94.6 114.8,97 115.6,101.5 L115.8,108 L115.3,114 L100,118 Z" fill="#231f20"/><path d="M97.4,110.6 C103,109.6 109.5,108 114.9,105.8 C115.6,110 115.8,114 114.6,117 C113,120.5 110,122.6 106.2,122.6 C101.5,122.6 98,119.5 97.4,115 Z" fill="#fff" stroke="#231f20" stroke-width="0.9"/><path d="M97.8,110.5 L100.6,109.9 L100.8,113.8 L98,114.2 Z" fill="#231f20"/><path d="M97.8,120.2 C101,125.5 108.5,126.2 112,121.4 L111.2,119.8 C108,123.2 102,123 99.3,119.2 Z" fill="#fff"/><polygon points="83.2,185.8 149.2,147.4 179.8,166.0 114.4,203.0" fill="#fff" stroke="#231f20" stroke-width="1.3" stroke-linejoin="round"/><polygon points="83.2,185.8 114.4,203.0 179.8,166.0 179.8,169.2 114.4,206.2 83.2,189.0" fill="#fff" stroke="#231f20" stroke-width="1.1" stroke-linejoin="round"/><rect x="83.5" y="189" width="5.8" height="44.5" fill="#fff" stroke="#231f20" stroke-width="1.1"/><rect x="86.5" y="192" width="2.6" height="39.5" fill="#231f20"/><rect x="111" y="205.5" width="5.8" height="44.0" fill="#fff" stroke="#231f20" stroke-width="1.1"/><rect x="114" y="208.5" width="2.6" height="39.0" fill="#231f20"/><rect x="174" y="169" width="5.8" height="45" fill="#fff" stroke="#231f20" stroke-width="1.1"/><rect x="177" y="172" width="2.6" height="40" fill="#231f20"/><polygon points="102.5,176.5 120.4,186.2 131.0,180.0 131.0,160.0 148.6,146.8 151.5,149.5 113.2,170.2" fill="#fff" stroke="#231f20" stroke-width="1" stroke-linejoin="round"/><polygon points="120.4,186.2 130.5,160.5 163.5,144.5 153.0,169.5" fill="#fff" stroke="#231f20" stroke-width="1.3" stroke-linejoin="round"/><line x1="130.5" y1="160.5" x2="163.5" y2="144.5" stroke="#231f20" stroke-width="2.6"/><path d="M104.2,170.2 C108,169.6 112,170.5 115.5,172.5 L119.5,176.5 C118.5,179 115,180 112,179 L104.5,176.2 Z" fill="#fff" stroke="#231f20" stroke-width="0.8"/><path d="M110,175.5 L116,178 M111,173.8 L117,176.2" stroke="#231f20" stroke-width="0.5"/><path d="M163,142 A73,73 0 0 1 274,142.5" fill="none" stroke="#19a5aa" stroke-width="2.5" stroke-linecap="round" stroke-dasharray="0 6.9"/><path d="M266.8,149.6 Q282.9,140.4 299,149.6" fill="none" stroke="#19a5aa" stroke-width="1.9" stroke-linecap="round"/><path d="M268.9,152.7 Q282.9,145.3 296.9,152.7" fill="none" stroke="#19a5aa" stroke-width="1.9" stroke-linecap="round"/><path d="M270.9,156.2 Q282.9,149.2 294.9,156.2" fill="none" stroke="#19a5aa" stroke-width="1.9" stroke-linecap="round"/><path d="M273,159.8 Q282.9,153.8 292.8,159.8" fill="none" stroke="#19a5aa" stroke-width="1.9" stroke-linecap="round"/><path d="M274.5,163.5 Q282.9,159.1 291.3,163.5" fill="none" stroke="#19a5aa" stroke-width="1.9" stroke-linecap="round"/><polygon points="278.3,183.7 300.8,195.9 300.8,218.0 278.3,205.8" fill="#fff" stroke="#19a5aa" stroke-width="1.3" stroke-linejoin="round"/><polygon points="300.8,195.9 309.6,191.0 309.6,213.1 300.8,218.0" fill="#fff" stroke="#19a5aa" stroke-width="1.3" stroke-linejoin="round"/><polygon points="287.6,178.8 309.6,191.0 300.8,195.9 278.3,183.7" fill="#fff" stroke="#19a5aa" stroke-width="1.3" stroke-linejoin="round"/><polyline points="278.3,203.3 300.8,215.5 309.6,210.6" fill="none" stroke="#19a5aa" stroke-width="0.8"/><line x1="283" y1="167.5" x2="283" y2="192" stroke="#19a5aa" stroke-width="3" stroke-linecap="round"/><circle cx="283" cy="192.5" r="2.7" fill="#19a5aa"/><polygon points="302.4,203.0 307.6,200.0 307.6,208.5 302.4,211.5" fill="#fff" stroke="#19a5aa" stroke-width="1"/><polygon points="350.7,191.0 359.5,195.9 359.5,217.7 350.7,212.8" fill="#fff" stroke="#19a5aa" stroke-width="1.3" stroke-linejoin="round"/><polygon points="359.5,195.9 381.5,184.7 381.5,206.5 359.5,217.7" fill="#fff" stroke="#19a5aa" stroke-width="1.3" stroke-linejoin="round"/><polygon points="372.3,178.8 381.5,184.7 359.5,195.9 350.7,191.0" fill="#fff" stroke="#19a5aa" stroke-width="1.3" stroke-linejoin="round"/><polyline points="350.7,210.3 359.5,215.2 381.5,204.0" fill="none" stroke="#19a5aa" stroke-width="0.8"/><polygon points="352.3,200.0 357.5,203.0 357.5,211.5 352.3,208.5" fill="#fff" stroke="#19a5aa" stroke-width="1"/><polyline points="305.6,206.5 307.8,216.8 330.2,229.5 353.3,216.8 355.2,206.2" fill="none" stroke="#231f20" stroke-width="3.6" stroke-linejoin="round" stroke-linecap="round"/><polyline points="381.0,200.5 403.3,189.2" fill="none" stroke="#231f20" stroke-width="3.6"/><defs><linearGradient id="pkL" x1="105.5" y1="634" x2="159.5" y2="664.7" gradientUnits="userSpaceOnUse"><stop offset="0" stop-color="#f3979a" stop-opacity="0.15"/><stop offset="0.35" stop-color="#f3979a"/></linearGradient><linearGradient id="pkR" x1="268.8" y1="728.3" x2="311.2" y2="703.9" gradientUnits="userSpaceOnUse"><stop offset="0.5" stop-color="#f3979a"/><stop offset="1" stop-color="#f3979a" stop-opacity="0.15"/></linearGradient></defs><line x1="105.5" y1="634" x2="162" y2="666" stroke="url(#pkL)" stroke-width="2"/><polyline points="240.0,708.5 268.8,728.3 311.2,703.9" fill="none" stroke="url(#pkR)" stroke-width="2"/><polygon points="207.5,636.5 260.7,667.2 260.7,701.2 207.5,731.9 154.3,701.2 154.3,667.2" fill="#f3979a"/><polygon points="193.5,653.0 205.9,660.4 205.9,686.4 193.5,693.8 181.1,686.4 181.1,660.4" fill="#fff"/><polyline points="181.1,660.4 193.5,667.8 205.9,660.4" fill="none" stroke="#f3979a" stroke-width="0.9"/><line x1="193.5" y1="667.8" x2="193.5" y2="693.8" stroke="#f3979a" stroke-width="0.9"/><polygon points="227.4,674.7 239.8,682.3 239.8,706.9 227.4,714.5 215.0,706.9 215.0,682.3" fill="#fff"/><polyline points="215.0,682.3 227.4,689.9 239.8,682.3" fill="none" stroke="#f3979a" stroke-width="0.9"/><line x1="227.4" y1="689.9000000000001" x2="227.4" y2="714.5000000000001" stroke="#f3979a" stroke-width="0.9"/><polygon points="193.5,698.0 205.6,705.0 205.6,710.7 193.5,717.7 181.4,710.7 181.4,705.0" fill="#fff"/><polyline points="181.4,705.0 193.5,712.0 205.6,705.0" fill="none" stroke="#f3979a" stroke-width="0.9"/><line x1="193.5" y1="712" x2="193.5" y2="717.7" stroke="#f3979a" stroke-width="0.9"/><rect x="165.9" y="606.4" width="83.1" height="14.2" rx="3" fill="#f3979a"/><polygon points="201.0,620.0 215.0,620.0 207.9,629.7" fill="#f3979a"/><rect x="187" y="611.6" width="47" height="3" fill="#e3878a"/><line x1="187" y1="615.2" x2="234" y2="615.2" stroke="#b45a5c" stroke-width="0.8" stroke-dasharray="0.8 1.2"/><text x="172" y="618" font-family="Liberation Serif" font-style="italic" font-weight="bold" font-size="10" fill="#7d3436">%</text><text x="181" y="617.5" font-family="Liberation Sans" font-weight="bold" font-size="9.5" fill="#7d3436">ii</text><text x="199" y="617.5" font-family="Liberation Serif" font-style="italic" font-weight="bold" font-size="10" fill="#7d3436">6o</text><text x="220" y="620" font-family="Liberation Serif" font-style="italic" font-weight="bold" font-size="10" fill="#7d3436">s</text><text x="233" y="617" font-family="Liberation Sans" font-weight="bold" font-size="9.5" fill="#7d3436">#</text><circle cx="98.7" cy="627.6" r="8.9" fill="#f3979a"/><path d="M95.4,624.3000000000001 L102.0,630.9 M102.0,624.3000000000001 L95.4,630.9" stroke="#fff" stroke-width="2.2"/><circle cx="319.7" cy="697.6" r="8.9" fill="#f3979a"/><path d="M316.4,694.3000000000001 L323.0,700.9 M323.0,694.3000000000001 L316.4,700.9" stroke="#fff" stroke-width="2.2"/><circle cx="215.8" cy="117.2" r="10.1" fill="#231f20"/><text x="215.8" y="122.7" text-anchor="middle" font-family="Liberation Sans" font-weight="bold" font-size="15.5" fill="#fff">1</text><circle cx="330.2" cy="229.5" r="10.1" fill="#231f20"/><text x="330.2" y="235.0" text-anchor="middle" font-family="Liberation Sans" font-weight="bold" font-size="15.5" fill="#fff">2</text><circle cx="434" cy="212.5" r="10.1" fill="#231f20"/><text x="434" y="218.0" text-anchor="middle" font-family="Liberation Sans" font-weight="bold" font-size="15.5" fill="#fff">3</text><circle cx="606.6" cy="270.4" r="10.1" fill="#231f20"/><text x="606.6" y="275.9" text-anchor="middle" font-family="Liberation Sans" font-weight="bold" font-size="15.5" fill="#fff">4</text><circle cx="884" cy="472.2" r="10.1" fill="#231f20"/><text x="884" y="477.7" text-anchor="middle" font-family="Liberation Sans" font-weight="bold" font-size="15.5" fill="#fff">5</text><circle cx="831" cy="581" r="10.1" fill="#231f20"/><text x="831" y="586.5" text-anchor="middle" font-family="Liberation Sans" font-weight="bold" font-size="15.5" fill="#fff">6</text><circle cx="630.1" cy="575.6" r="10.1" fill="#231f20"/><text x="630.1" y="581.1" text-anchor="middle" font-family="Liberation Sans" font-weight="bold" font-size="15.5" fill="#fff">7</text><circle cx="458.8" cy="567.7" r="10.1" fill="#231f20"/><text x="458.8" y="573.2" text-anchor="middle" font-family="Liberation Sans" font-weight="bold" font-size="15.5" fill="#fff">8</text><circle cx="314" cy="615.6" r="10.1" fill="#231f20"/><text x="314" y="621.1" text-anchor="middle" font-family="Liberation Sans" font-weight="bold" font-size="15.5" fill="#fff">9</text><circle cx="427.4" cy="807.6" r="10.1" fill="#231f20"/><text x="427.79999999999995" y="812.1" text-anchor="middle" font-family="Liberation Sans" font-weight="bold" font-size="12.6" fill="#fff" letter-spacing="-0.9">10</text><circle cx="595.7" cy="936.7" r="10.1" fill="#231f20"/><text x="596.1" y="941.2" text-anchor="middle" font-family="Liberation Sans" font-weight="bold" font-size="12.6" fill="#fff" letter-spacing="-0.9">11</text><circle cx="911.5" cy="984.8" r="10.1" fill="#231f20"/><text x="911.9" y="989.3" text-anchor="middle" font-family="Liberation Sans" font-weight="bold" font-size="12.6" fill="#fff" letter-spacing="-0.9">12</text><circle cx="1087.4" cy="1173" r="10.1" fill="#231f20"/><text x="1087.8000000000002" y="1177.5" text-anchor="middle" font-family="Liberation Sans" font-weight="bold" font-size="12.6" fill="#fff" letter-spacing="-0.9">13</text><text x="129.5" y="45.1" font-family="Liberation Sans" font-size="15" fill="#231f20" stroke="#231f20" stroke-width="0.22">The Internet works by chopping data into chunks</text><text x="129.5" y="64" font-family="Liberation Sans" font-size="15" fill="#231f20" stroke="#231f20" stroke-width="0.22">called packets. Each packet then moves through</text><text x="129.5" y="82.8" font-family="Liberation Sans" font-size="15" fill="#231f20" stroke="#231f20" stroke-width="0.22">the network in a series of</text><text x="333" y="82.8" font-family="Liberation Sans" font-size="15" fill="#231f20" stroke="#231f20" stroke-width="0.22">hops.</text><circle cx="313.5" cy="78" r="10" fill="#231f20"/><text x="313.8" y="83" text-anchor="middle" font-family="Liberation Sans" font-weight="bold" font-style="italic" font-size="14" fill="#fff">#</text><text x="121.4" y="110.7" font-family="Liberation Sans" font-weight="bold" font-size="15" fill="#231f20" stroke="#231f20" stroke-width="0.35">Sender</text><text x="343.2" y="165.5" font-family="Liberation Sans" font-weight="bold" font-size="15" fill="#231f20" stroke="#231f20" stroke-width="0.35">Modem</text><text x="226.5" y="224.8" font-family="Liberation Sans" font-weight="bold" font-size="15" fill="#231f20" stroke="#231f20" stroke-width="0.35">Wireless</text><text x="226.5" y="243.3" font-family="Liberation Sans" font-weight="bold" font-size="15" fill="#231f20" stroke="#231f20" stroke-width="0.35">router</text><text x="616.8" y="129.1" font-family="Liberation Sans" font-weight="bold" font-size="15" fill="#231f20" stroke="#231f20" stroke-width="0.35">Entering the network</text><text x="616.8" y="148.2" font-family="Liberation Sans" font-size="15" fill="#231f20" stroke="#231f20" stroke-width="0.22">Each packet hops to a local Internet</text><text x="616.8" y="166.9" font-family="Liberation Sans" font-size="15" fill="#231f20" stroke="#231f20" stroke-width="0.22">service provider (ISP), a company</text><text x="616.8" y="185.6" font-family="Liberation Sans" font-size="15" fill="#231f20" stroke="#231f20" stroke-width="0.22">that offers access to the network –</text><text x="616.8" y="204.2" font-family="Liberation Sans" font-size="15" fill="#231f20" stroke="#231f20" stroke-width="0.22">usually for a fee.</text><text x="862.1" y="307" font-family="Liberation Sans" font-weight="bold" font-size="15" fill="#231f20" stroke="#231f20" stroke-width="0.35">Taking flight</text><text x="862.1" y="326.2" font-family="Liberation Sans" font-size="15" fill="#231f20" stroke="#231f20" stroke-width="0.22">The next hop delivers the packet to a</text><text x="862.1" y="344.9" font-family="Liberation Sans" font-size="15" fill="#231f20" stroke="#231f20" stroke-width="0.22">long-haul provider, one of the airlines</text><text x="862.1" y="363.6" font-family="Liberation Sans" font-size="15" fill="#231f20" stroke="#231f20" stroke-width="0.22">of cyberspace that quickly carrying</text><text x="862.1" y="382.3" font-family="Liberation Sans" font-size="15" fill="#231f20" stroke="#231f20" stroke-width="0.22">data across the world.</text><text x="68.2" y="351.7" font-family="Liberation Sans" font-weight="bold" font-size="15" fill="#231f20" stroke="#231f20" stroke-width="0.35">BGP</text><text x="68.2" y="371.1" font-family="Liberation Sans" font-size="15" fill="#231f20" stroke="#231f20" stroke-width="0.22">These providers use the Border</text><text x="68.2" y="390" font-family="Liberation Sans" font-size="15" fill="#231f20" stroke="#231f20" stroke-width="0.22">Gateway Protocol to find a route across</text><text x="68.2" y="408.8" font-family="Liberation Sans" font-size="15" fill="#231f20" stroke="#231f20" stroke-width="0.22">the many individual networks that</text><text x="68.2" y="427.7" font-family="Liberation Sans" font-size="15" fill="#231f20" stroke="#231f20" stroke-width="0.22">together form the Internet.</text><text x="68.2" y="481.2" font-family="Liberation Sans" font-weight="bold" font-size="15" fill="#231f20" stroke="#231f20" stroke-width="0.35">Finding a route</text><text x="68.2" y="500.8" font-family="Liberation Sans" font-size="15" fill="#231f20" stroke="#231f20" stroke-width="0.22">This journey often takes several more</text><text x="68.2" y="519.5" font-family="Liberation Sans" font-size="15" fill="#231f20" stroke="#231f20" stroke-width="0.22">hops, which are plotted out one by</text><text x="68.2" y="538.4" font-family="Liberation Sans" font-size="15" fill="#231f20" stroke="#231f20" stroke-width="0.22">one as the data packet moves across</text><text x="68.2" y="557.2" font-family="Liberation Sans" font-size="15" fill="#231f20" stroke="#231f20" stroke-width="0.22">the Internet.</text><text x="61.5" y="792.7" font-family="Liberation Sans" font-weight="bold" font-size="15" fill="#231f20" stroke="#231f20" stroke-width="0.35">Bad information</text><text x="61.5" y="811.8" font-family="Liberation Sans" font-size="15" fill="#231f20" stroke="#231f20" stroke-width="0.22">For the system to work properly, the</text><text x="61.5" y="830.6" font-family="Liberation Sans" font-size="15" fill="#231f20" stroke="#231f20" stroke-width="0.22">BGP information shared among</text><text x="61.5" y="849.3" font-family="Liberation Sans" font-size="15" fill="#231f20" stroke="#231f20" stroke-width="0.22">routers cannot contain lies or errors</text><text x="61.5" y="868" font-family="Liberation Sans" font-size="15" fill="#231f20" stroke="#231f20" stroke-width="0.22">that might cause a packet to go off</text><text x="61.5" y="886.7" font-family="Liberation Sans" font-size="15" fill="#231f20" stroke="#231f20" stroke-width="0.22">track – or get lost altogether.</text><text x="980.1" y="944.5" font-family="Liberation Sans" font-weight="bold" font-size="15" fill="#231f20" stroke="#231f20" stroke-width="0.35">Recipient’s ISP</text><text x="565.3" y="1211.5" font-family="Liberation Sans" font-weight="bold" font-size="15" fill="#231f20" stroke="#231f20" stroke-width="0.35">Arrival</text><text x="565.3" y="1230.4" font-family="Liberation Sans" font-size="15" fill="#231f20" stroke="#231f20" stroke-width="0.22">The final hop takes a packet to the</text><text x="565.3" y="1249.4" font-family="Liberation Sans" font-size="15" fill="#231f20" stroke="#231f20" stroke-width="0.22">recipient, which reassembles all of the</text><text x="565.3" y="1268.3" font-family="Liberation Sans" font-size="15" fill="#231f20" stroke="#231f20" stroke-width="0.22">packets into a coherent message. A</text><text x="565.3" y="1287.2" font-family="Liberation Sans" font-size="15" fill="#231f20" stroke="#231f20" stroke-width="0.22">separate message goes back through the</text><text x="565.3" y="1306.2" font-family="Liberation Sans" font-size="15" fill="#231f20" stroke="#231f20" stroke-width="0.22">network confirming successful delivery.</text></svg></body></html>
